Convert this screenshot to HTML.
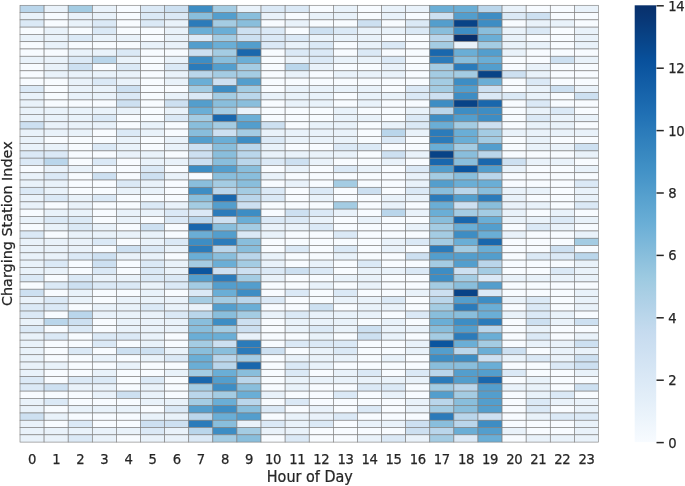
<!DOCTYPE html>
<html lang="en"><head><meta charset="utf-8"><title>Heatmap</title>
<style>html,body{margin:0;padding:0;background:#fff}svg{display:block}text{font-family:"DejaVu Sans","Liberation Sans",sans-serif;fill:#262626;stroke:#262626;stroke-width:0.25px}</style></head><body>
<svg width="685" height="486" viewBox="0 0 685 486">
<rect width="685" height="486" fill="#ffffff"/>
<g stroke="#808080" stroke-width="0.65">
<rect x="20.00" y="5.30" width="24.10" height="7.28" fill="#bad6eb"/>
<rect x="44.10" y="5.30" width="24.10" height="7.28" fill="#e9f2fa"/>
<rect x="68.21" y="5.30" width="24.10" height="7.28" fill="#a4cce3"/>
<rect x="92.31" y="5.30" width="24.10" height="7.28" fill="#e9f2fa"/>
<rect x="116.42" y="5.30" width="24.10" height="7.28" fill="#f7fbff"/>
<rect x="140.52" y="5.30" width="24.10" height="7.28" fill="#dbe9f6"/>
<rect x="164.62" y="5.30" width="24.10" height="7.28" fill="#cde0f1"/>
<rect x="188.73" y="5.30" width="24.10" height="7.28" fill="#3d8dc4"/>
<rect x="212.83" y="5.30" width="24.10" height="7.28" fill="#a4cce3"/>
<rect x="236.94" y="5.30" width="24.10" height="7.28" fill="#e9f2fa"/>
<rect x="261.04" y="5.30" width="24.10" height="7.28" fill="#dbe9f6"/>
<rect x="285.15" y="5.30" width="24.10" height="7.28" fill="#dbe9f6"/>
<rect x="309.25" y="5.30" width="24.10" height="7.28" fill="#f7fbff"/>
<rect x="333.35" y="5.30" width="24.10" height="7.28" fill="#e9f2fa"/>
<rect x="357.46" y="5.30" width="24.10" height="7.28" fill="#f7fbff"/>
<rect x="381.56" y="5.30" width="24.10" height="7.28" fill="#e9f2fa"/>
<rect x="405.67" y="5.30" width="24.10" height="7.28" fill="#e9f2fa"/>
<rect x="429.77" y="5.30" width="24.10" height="7.28" fill="#6aaed6"/>
<rect x="453.88" y="5.30" width="24.10" height="7.28" fill="#6aaed6"/>
<rect x="477.98" y="5.30" width="24.10" height="7.28" fill="#bad6eb"/>
<rect x="502.08" y="5.30" width="24.10" height="7.28" fill="#e9f2fa"/>
<rect x="526.19" y="5.30" width="24.10" height="7.28" fill="#f7fbff"/>
<rect x="550.29" y="5.30" width="24.10" height="7.28" fill="#f7fbff"/>
<rect x="574.40" y="5.30" width="24.10" height="7.28" fill="#e9f2fa"/>
<rect x="20.00" y="12.58" width="24.10" height="7.28" fill="#e9f2fa"/>
<rect x="44.10" y="12.58" width="24.10" height="7.28" fill="#f7fbff"/>
<rect x="68.21" y="12.58" width="24.10" height="7.28" fill="#e9f2fa"/>
<rect x="92.31" y="12.58" width="24.10" height="7.28" fill="#e9f2fa"/>
<rect x="116.42" y="12.58" width="24.10" height="7.28" fill="#f7fbff"/>
<rect x="140.52" y="12.58" width="24.10" height="7.28" fill="#dbe9f6"/>
<rect x="164.62" y="12.58" width="24.10" height="7.28" fill="#dbe9f6"/>
<rect x="188.73" y="12.58" width="24.10" height="7.28" fill="#89bedc"/>
<rect x="212.83" y="12.58" width="24.10" height="7.28" fill="#539ecd"/>
<rect x="236.94" y="12.58" width="24.10" height="7.28" fill="#89bedc"/>
<rect x="261.04" y="12.58" width="24.10" height="7.28" fill="#e9f2fa"/>
<rect x="285.15" y="12.58" width="24.10" height="7.28" fill="#f7fbff"/>
<rect x="309.25" y="12.58" width="24.10" height="7.28" fill="#e9f2fa"/>
<rect x="333.35" y="12.58" width="24.10" height="7.28" fill="#e9f2fa"/>
<rect x="357.46" y="12.58" width="24.10" height="7.28" fill="#f7fbff"/>
<rect x="381.56" y="12.58" width="24.10" height="7.28" fill="#e9f2fa"/>
<rect x="405.67" y="12.58" width="24.10" height="7.28" fill="#f7fbff"/>
<rect x="429.77" y="12.58" width="24.10" height="7.28" fill="#cde0f1"/>
<rect x="453.88" y="12.58" width="24.10" height="7.28" fill="#539ecd"/>
<rect x="477.98" y="12.58" width="24.10" height="7.28" fill="#3d8dc4"/>
<rect x="502.08" y="12.58" width="24.10" height="7.28" fill="#dbe9f6"/>
<rect x="526.19" y="12.58" width="24.10" height="7.28" fill="#cde0f1"/>
<rect x="550.29" y="12.58" width="24.10" height="7.28" fill="#f7fbff"/>
<rect x="574.40" y="12.58" width="24.10" height="7.28" fill="#f7fbff"/>
<rect x="20.00" y="19.86" width="24.10" height="7.28" fill="#dbe9f6"/>
<rect x="44.10" y="19.86" width="24.10" height="7.28" fill="#f7fbff"/>
<rect x="68.21" y="19.86" width="24.10" height="7.28" fill="#e9f2fa"/>
<rect x="92.31" y="19.86" width="24.10" height="7.28" fill="#dbe9f6"/>
<rect x="116.42" y="19.86" width="24.10" height="7.28" fill="#f7fbff"/>
<rect x="140.52" y="19.86" width="24.10" height="7.28" fill="#dbe9f6"/>
<rect x="164.62" y="19.86" width="24.10" height="7.28" fill="#e9f2fa"/>
<rect x="188.73" y="19.86" width="24.10" height="7.28" fill="#2b7bba"/>
<rect x="212.83" y="19.86" width="24.10" height="7.28" fill="#a4cce3"/>
<rect x="236.94" y="19.86" width="24.10" height="7.28" fill="#89bedc"/>
<rect x="261.04" y="19.86" width="24.10" height="7.28" fill="#f7fbff"/>
<rect x="285.15" y="19.86" width="24.10" height="7.28" fill="#e9f2fa"/>
<rect x="309.25" y="19.86" width="24.10" height="7.28" fill="#f7fbff"/>
<rect x="333.35" y="19.86" width="24.10" height="7.28" fill="#f7fbff"/>
<rect x="357.46" y="19.86" width="24.10" height="7.28" fill="#cde0f1"/>
<rect x="381.56" y="19.86" width="24.10" height="7.28" fill="#f7fbff"/>
<rect x="405.67" y="19.86" width="24.10" height="7.28" fill="#dbe9f6"/>
<rect x="429.77" y="19.86" width="24.10" height="7.28" fill="#539ecd"/>
<rect x="453.88" y="19.86" width="24.10" height="7.28" fill="#084387"/>
<rect x="477.98" y="19.86" width="24.10" height="7.28" fill="#3d8dc4"/>
<rect x="502.08" y="19.86" width="24.10" height="7.28" fill="#f7fbff"/>
<rect x="526.19" y="19.86" width="24.10" height="7.28" fill="#e9f2fa"/>
<rect x="550.29" y="19.86" width="24.10" height="7.28" fill="#e9f2fa"/>
<rect x="574.40" y="19.86" width="24.10" height="7.28" fill="#f7fbff"/>
<rect x="20.00" y="27.14" width="24.10" height="7.28" fill="#f7fbff"/>
<rect x="44.10" y="27.14" width="24.10" height="7.28" fill="#e9f2fa"/>
<rect x="68.21" y="27.14" width="24.10" height="7.28" fill="#f7fbff"/>
<rect x="92.31" y="27.14" width="24.10" height="7.28" fill="#dbe9f6"/>
<rect x="116.42" y="27.14" width="24.10" height="7.28" fill="#f7fbff"/>
<rect x="140.52" y="27.14" width="24.10" height="7.28" fill="#f7fbff"/>
<rect x="164.62" y="27.14" width="24.10" height="7.28" fill="#e9f2fa"/>
<rect x="188.73" y="27.14" width="24.10" height="7.28" fill="#6aaed6"/>
<rect x="212.83" y="27.14" width="24.10" height="7.28" fill="#6aaed6"/>
<rect x="236.94" y="27.14" width="24.10" height="7.28" fill="#cde0f1"/>
<rect x="261.04" y="27.14" width="24.10" height="7.28" fill="#dbe9f6"/>
<rect x="285.15" y="27.14" width="24.10" height="7.28" fill="#f7fbff"/>
<rect x="309.25" y="27.14" width="24.10" height="7.28" fill="#cde0f1"/>
<rect x="333.35" y="27.14" width="24.10" height="7.28" fill="#dbe9f6"/>
<rect x="357.46" y="27.14" width="24.10" height="7.28" fill="#e9f2fa"/>
<rect x="381.56" y="27.14" width="24.10" height="7.28" fill="#e9f2fa"/>
<rect x="405.67" y="27.14" width="24.10" height="7.28" fill="#dbe9f6"/>
<rect x="429.77" y="27.14" width="24.10" height="7.28" fill="#89bedc"/>
<rect x="453.88" y="27.14" width="24.10" height="7.28" fill="#3d8dc4"/>
<rect x="477.98" y="27.14" width="24.10" height="7.28" fill="#89bedc"/>
<rect x="502.08" y="27.14" width="24.10" height="7.28" fill="#e9f2fa"/>
<rect x="526.19" y="27.14" width="24.10" height="7.28" fill="#dbe9f6"/>
<rect x="550.29" y="27.14" width="24.10" height="7.28" fill="#f7fbff"/>
<rect x="574.40" y="27.14" width="24.10" height="7.28" fill="#e9f2fa"/>
<rect x="20.00" y="34.42" width="24.10" height="7.28" fill="#e9f2fa"/>
<rect x="44.10" y="34.42" width="24.10" height="7.28" fill="#e9f2fa"/>
<rect x="68.21" y="34.42" width="24.10" height="7.28" fill="#dbe9f6"/>
<rect x="92.31" y="34.42" width="24.10" height="7.28" fill="#e9f2fa"/>
<rect x="116.42" y="34.42" width="24.10" height="7.28" fill="#e9f2fa"/>
<rect x="140.52" y="34.42" width="24.10" height="7.28" fill="#f7fbff"/>
<rect x="164.62" y="34.42" width="24.10" height="7.28" fill="#e9f2fa"/>
<rect x="188.73" y="34.42" width="24.10" height="7.28" fill="#dbe9f6"/>
<rect x="212.83" y="34.42" width="24.10" height="7.28" fill="#a4cce3"/>
<rect x="236.94" y="34.42" width="24.10" height="7.28" fill="#cde0f1"/>
<rect x="261.04" y="34.42" width="24.10" height="7.28" fill="#dbe9f6"/>
<rect x="285.15" y="34.42" width="24.10" height="7.28" fill="#dbe9f6"/>
<rect x="309.25" y="34.42" width="24.10" height="7.28" fill="#e9f2fa"/>
<rect x="333.35" y="34.42" width="24.10" height="7.28" fill="#e9f2fa"/>
<rect x="357.46" y="34.42" width="24.10" height="7.28" fill="#e9f2fa"/>
<rect x="381.56" y="34.42" width="24.10" height="7.28" fill="#f7fbff"/>
<rect x="405.67" y="34.42" width="24.10" height="7.28" fill="#f7fbff"/>
<rect x="429.77" y="34.42" width="24.10" height="7.28" fill="#bad6eb"/>
<rect x="453.88" y="34.42" width="24.10" height="7.28" fill="#08306b"/>
<rect x="477.98" y="34.42" width="24.10" height="7.28" fill="#6aaed6"/>
<rect x="502.08" y="34.42" width="24.10" height="7.28" fill="#e9f2fa"/>
<rect x="526.19" y="34.42" width="24.10" height="7.28" fill="#f7fbff"/>
<rect x="550.29" y="34.42" width="24.10" height="7.28" fill="#f7fbff"/>
<rect x="574.40" y="34.42" width="24.10" height="7.28" fill="#e9f2fa"/>
<rect x="20.00" y="41.70" width="24.10" height="7.28" fill="#f7fbff"/>
<rect x="44.10" y="41.70" width="24.10" height="7.28" fill="#e9f2fa"/>
<rect x="68.21" y="41.70" width="24.10" height="7.28" fill="#f7fbff"/>
<rect x="92.31" y="41.70" width="24.10" height="7.28" fill="#f7fbff"/>
<rect x="116.42" y="41.70" width="24.10" height="7.28" fill="#f7fbff"/>
<rect x="140.52" y="41.70" width="24.10" height="7.28" fill="#e9f2fa"/>
<rect x="164.62" y="41.70" width="24.10" height="7.28" fill="#e9f2fa"/>
<rect x="188.73" y="41.70" width="24.10" height="7.28" fill="#539ecd"/>
<rect x="212.83" y="41.70" width="24.10" height="7.28" fill="#6aaed6"/>
<rect x="236.94" y="41.70" width="24.10" height="7.28" fill="#539ecd"/>
<rect x="261.04" y="41.70" width="24.10" height="7.28" fill="#dbe9f6"/>
<rect x="285.15" y="41.70" width="24.10" height="7.28" fill="#e9f2fa"/>
<rect x="309.25" y="41.70" width="24.10" height="7.28" fill="#dbe9f6"/>
<rect x="333.35" y="41.70" width="24.10" height="7.28" fill="#f7fbff"/>
<rect x="357.46" y="41.70" width="24.10" height="7.28" fill="#e9f2fa"/>
<rect x="381.56" y="41.70" width="24.10" height="7.28" fill="#dbe9f6"/>
<rect x="405.67" y="41.70" width="24.10" height="7.28" fill="#f7fbff"/>
<rect x="429.77" y="41.70" width="24.10" height="7.28" fill="#a4cce3"/>
<rect x="453.88" y="41.70" width="24.10" height="7.28" fill="#e9f2fa"/>
<rect x="477.98" y="41.70" width="24.10" height="7.28" fill="#a4cce3"/>
<rect x="502.08" y="41.70" width="24.10" height="7.28" fill="#e9f2fa"/>
<rect x="526.19" y="41.70" width="24.10" height="7.28" fill="#e9f2fa"/>
<rect x="550.29" y="41.70" width="24.10" height="7.28" fill="#f7fbff"/>
<rect x="574.40" y="41.70" width="24.10" height="7.28" fill="#e9f2fa"/>
<rect x="20.00" y="48.98" width="24.10" height="7.28" fill="#f7fbff"/>
<rect x="44.10" y="48.98" width="24.10" height="7.28" fill="#f7fbff"/>
<rect x="68.21" y="48.98" width="24.10" height="7.28" fill="#e9f2fa"/>
<rect x="92.31" y="48.98" width="24.10" height="7.28" fill="#e9f2fa"/>
<rect x="116.42" y="48.98" width="24.10" height="7.28" fill="#dbe9f6"/>
<rect x="140.52" y="48.98" width="24.10" height="7.28" fill="#f7fbff"/>
<rect x="164.62" y="48.98" width="24.10" height="7.28" fill="#f7fbff"/>
<rect x="188.73" y="48.98" width="24.10" height="7.28" fill="#cde0f1"/>
<rect x="212.83" y="48.98" width="24.10" height="7.28" fill="#a4cce3"/>
<rect x="236.94" y="48.98" width="24.10" height="7.28" fill="#1967ad"/>
<rect x="261.04" y="48.98" width="24.10" height="7.28" fill="#f7fbff"/>
<rect x="285.15" y="48.98" width="24.10" height="7.28" fill="#dbe9f6"/>
<rect x="309.25" y="48.98" width="24.10" height="7.28" fill="#dbe9f6"/>
<rect x="333.35" y="48.98" width="24.10" height="7.28" fill="#f7fbff"/>
<rect x="357.46" y="48.98" width="24.10" height="7.28" fill="#dbe9f6"/>
<rect x="381.56" y="48.98" width="24.10" height="7.28" fill="#f7fbff"/>
<rect x="405.67" y="48.98" width="24.10" height="7.28" fill="#f7fbff"/>
<rect x="429.77" y="48.98" width="24.10" height="7.28" fill="#1967ad"/>
<rect x="453.88" y="48.98" width="24.10" height="7.28" fill="#6aaed6"/>
<rect x="477.98" y="48.98" width="24.10" height="7.28" fill="#539ecd"/>
<rect x="502.08" y="48.98" width="24.10" height="7.28" fill="#e9f2fa"/>
<rect x="526.19" y="48.98" width="24.10" height="7.28" fill="#f7fbff"/>
<rect x="550.29" y="48.98" width="24.10" height="7.28" fill="#f7fbff"/>
<rect x="574.40" y="48.98" width="24.10" height="7.28" fill="#f7fbff"/>
<rect x="20.00" y="56.26" width="24.10" height="7.28" fill="#e9f2fa"/>
<rect x="44.10" y="56.26" width="24.10" height="7.28" fill="#e9f2fa"/>
<rect x="68.21" y="56.26" width="24.10" height="7.28" fill="#dbe9f6"/>
<rect x="92.31" y="56.26" width="24.10" height="7.28" fill="#bad6eb"/>
<rect x="116.42" y="56.26" width="24.10" height="7.28" fill="#e9f2fa"/>
<rect x="140.52" y="56.26" width="24.10" height="7.28" fill="#f7fbff"/>
<rect x="164.62" y="56.26" width="24.10" height="7.28" fill="#e9f2fa"/>
<rect x="188.73" y="56.26" width="24.10" height="7.28" fill="#3d8dc4"/>
<rect x="212.83" y="56.26" width="24.10" height="7.28" fill="#89bedc"/>
<rect x="236.94" y="56.26" width="24.10" height="7.28" fill="#6aaed6"/>
<rect x="261.04" y="56.26" width="24.10" height="7.28" fill="#f7fbff"/>
<rect x="285.15" y="56.26" width="24.10" height="7.28" fill="#e9f2fa"/>
<rect x="309.25" y="56.26" width="24.10" height="7.28" fill="#dbe9f6"/>
<rect x="333.35" y="56.26" width="24.10" height="7.28" fill="#e9f2fa"/>
<rect x="357.46" y="56.26" width="24.10" height="7.28" fill="#e9f2fa"/>
<rect x="381.56" y="56.26" width="24.10" height="7.28" fill="#dbe9f6"/>
<rect x="405.67" y="56.26" width="24.10" height="7.28" fill="#f7fbff"/>
<rect x="429.77" y="56.26" width="24.10" height="7.28" fill="#2b7bba"/>
<rect x="453.88" y="56.26" width="24.10" height="7.28" fill="#89bedc"/>
<rect x="477.98" y="56.26" width="24.10" height="7.28" fill="#6aaed6"/>
<rect x="502.08" y="56.26" width="24.10" height="7.28" fill="#f7fbff"/>
<rect x="526.19" y="56.26" width="24.10" height="7.28" fill="#f7fbff"/>
<rect x="550.29" y="56.26" width="24.10" height="7.28" fill="#cde0f1"/>
<rect x="574.40" y="56.26" width="24.10" height="7.28" fill="#e9f2fa"/>
<rect x="20.00" y="63.54" width="24.10" height="7.28" fill="#f7fbff"/>
<rect x="44.10" y="63.54" width="24.10" height="7.28" fill="#e9f2fa"/>
<rect x="68.21" y="63.54" width="24.10" height="7.28" fill="#cde0f1"/>
<rect x="92.31" y="63.54" width="24.10" height="7.28" fill="#f7fbff"/>
<rect x="116.42" y="63.54" width="24.10" height="7.28" fill="#dbe9f6"/>
<rect x="140.52" y="63.54" width="24.10" height="7.28" fill="#f7fbff"/>
<rect x="164.62" y="63.54" width="24.10" height="7.28" fill="#dbe9f6"/>
<rect x="188.73" y="63.54" width="24.10" height="7.28" fill="#2b7bba"/>
<rect x="212.83" y="63.54" width="24.10" height="7.28" fill="#539ecd"/>
<rect x="236.94" y="63.54" width="24.10" height="7.28" fill="#a4cce3"/>
<rect x="261.04" y="63.54" width="24.10" height="7.28" fill="#f7fbff"/>
<rect x="285.15" y="63.54" width="24.10" height="7.28" fill="#bad6eb"/>
<rect x="309.25" y="63.54" width="24.10" height="7.28" fill="#e9f2fa"/>
<rect x="333.35" y="63.54" width="24.10" height="7.28" fill="#f7fbff"/>
<rect x="357.46" y="63.54" width="24.10" height="7.28" fill="#f7fbff"/>
<rect x="381.56" y="63.54" width="24.10" height="7.28" fill="#e9f2fa"/>
<rect x="405.67" y="63.54" width="24.10" height="7.28" fill="#f7fbff"/>
<rect x="429.77" y="63.54" width="24.10" height="7.28" fill="#a4cce3"/>
<rect x="453.88" y="63.54" width="24.10" height="7.28" fill="#2b7bba"/>
<rect x="477.98" y="63.54" width="24.10" height="7.28" fill="#539ecd"/>
<rect x="502.08" y="63.54" width="24.10" height="7.28" fill="#f7fbff"/>
<rect x="526.19" y="63.54" width="24.10" height="7.28" fill="#e9f2fa"/>
<rect x="550.29" y="63.54" width="24.10" height="7.28" fill="#f7fbff"/>
<rect x="574.40" y="63.54" width="24.10" height="7.28" fill="#f7fbff"/>
<rect x="20.00" y="70.82" width="24.10" height="7.28" fill="#f7fbff"/>
<rect x="44.10" y="70.82" width="24.10" height="7.28" fill="#e9f2fa"/>
<rect x="68.21" y="70.82" width="24.10" height="7.28" fill="#e9f2fa"/>
<rect x="92.31" y="70.82" width="24.10" height="7.28" fill="#e9f2fa"/>
<rect x="116.42" y="70.82" width="24.10" height="7.28" fill="#e9f2fa"/>
<rect x="140.52" y="70.82" width="24.10" height="7.28" fill="#f7fbff"/>
<rect x="164.62" y="70.82" width="24.10" height="7.28" fill="#e9f2fa"/>
<rect x="188.73" y="70.82" width="24.10" height="7.28" fill="#bad6eb"/>
<rect x="212.83" y="70.82" width="24.10" height="7.28" fill="#a4cce3"/>
<rect x="236.94" y="70.82" width="24.10" height="7.28" fill="#a4cce3"/>
<rect x="261.04" y="70.82" width="24.10" height="7.28" fill="#f7fbff"/>
<rect x="285.15" y="70.82" width="24.10" height="7.28" fill="#e9f2fa"/>
<rect x="309.25" y="70.82" width="24.10" height="7.28" fill="#f7fbff"/>
<rect x="333.35" y="70.82" width="24.10" height="7.28" fill="#e9f2fa"/>
<rect x="357.46" y="70.82" width="24.10" height="7.28" fill="#e9f2fa"/>
<rect x="381.56" y="70.82" width="24.10" height="7.28" fill="#e9f2fa"/>
<rect x="405.67" y="70.82" width="24.10" height="7.28" fill="#f7fbff"/>
<rect x="429.77" y="70.82" width="24.10" height="7.28" fill="#a4cce3"/>
<rect x="453.88" y="70.82" width="24.10" height="7.28" fill="#a4cce3"/>
<rect x="477.98" y="70.82" width="24.10" height="7.28" fill="#084387"/>
<rect x="502.08" y="70.82" width="24.10" height="7.28" fill="#cde0f1"/>
<rect x="526.19" y="70.82" width="24.10" height="7.28" fill="#e9f2fa"/>
<rect x="550.29" y="70.82" width="24.10" height="7.28" fill="#f7fbff"/>
<rect x="574.40" y="70.82" width="24.10" height="7.28" fill="#f7fbff"/>
<rect x="20.00" y="78.10" width="24.10" height="7.28" fill="#f7fbff"/>
<rect x="44.10" y="78.10" width="24.10" height="7.28" fill="#f7fbff"/>
<rect x="68.21" y="78.10" width="24.10" height="7.28" fill="#e9f2fa"/>
<rect x="92.31" y="78.10" width="24.10" height="7.28" fill="#dbe9f6"/>
<rect x="116.42" y="78.10" width="24.10" height="7.28" fill="#e9f2fa"/>
<rect x="140.52" y="78.10" width="24.10" height="7.28" fill="#f7fbff"/>
<rect x="164.62" y="78.10" width="24.10" height="7.28" fill="#e9f2fa"/>
<rect x="188.73" y="78.10" width="24.10" height="7.28" fill="#6aaed6"/>
<rect x="212.83" y="78.10" width="24.10" height="7.28" fill="#cde0f1"/>
<rect x="236.94" y="78.10" width="24.10" height="7.28" fill="#539ecd"/>
<rect x="261.04" y="78.10" width="24.10" height="7.28" fill="#f7fbff"/>
<rect x="285.15" y="78.10" width="24.10" height="7.28" fill="#f7fbff"/>
<rect x="309.25" y="78.10" width="24.10" height="7.28" fill="#f7fbff"/>
<rect x="333.35" y="78.10" width="24.10" height="7.28" fill="#f7fbff"/>
<rect x="357.46" y="78.10" width="24.10" height="7.28" fill="#f7fbff"/>
<rect x="381.56" y="78.10" width="24.10" height="7.28" fill="#f7fbff"/>
<rect x="405.67" y="78.10" width="24.10" height="7.28" fill="#f7fbff"/>
<rect x="429.77" y="78.10" width="24.10" height="7.28" fill="#a4cce3"/>
<rect x="453.88" y="78.10" width="24.10" height="7.28" fill="#3d8dc4"/>
<rect x="477.98" y="78.10" width="24.10" height="7.28" fill="#6aaed6"/>
<rect x="502.08" y="78.10" width="24.10" height="7.28" fill="#f7fbff"/>
<rect x="526.19" y="78.10" width="24.10" height="7.28" fill="#dbe9f6"/>
<rect x="550.29" y="78.10" width="24.10" height="7.28" fill="#f7fbff"/>
<rect x="574.40" y="78.10" width="24.10" height="7.28" fill="#f7fbff"/>
<rect x="20.00" y="85.38" width="24.10" height="7.28" fill="#dbe9f6"/>
<rect x="44.10" y="85.38" width="24.10" height="7.28" fill="#f7fbff"/>
<rect x="68.21" y="85.38" width="24.10" height="7.28" fill="#e9f2fa"/>
<rect x="92.31" y="85.38" width="24.10" height="7.28" fill="#e9f2fa"/>
<rect x="116.42" y="85.38" width="24.10" height="7.28" fill="#cde0f1"/>
<rect x="140.52" y="85.38" width="24.10" height="7.28" fill="#f7fbff"/>
<rect x="164.62" y="85.38" width="24.10" height="7.28" fill="#f7fbff"/>
<rect x="188.73" y="85.38" width="24.10" height="7.28" fill="#a4cce3"/>
<rect x="212.83" y="85.38" width="24.10" height="7.28" fill="#3d8dc4"/>
<rect x="236.94" y="85.38" width="24.10" height="7.28" fill="#a4cce3"/>
<rect x="261.04" y="85.38" width="24.10" height="7.28" fill="#f7fbff"/>
<rect x="285.15" y="85.38" width="24.10" height="7.28" fill="#e9f2fa"/>
<rect x="309.25" y="85.38" width="24.10" height="7.28" fill="#e9f2fa"/>
<rect x="333.35" y="85.38" width="24.10" height="7.28" fill="#e9f2fa"/>
<rect x="357.46" y="85.38" width="24.10" height="7.28" fill="#e9f2fa"/>
<rect x="381.56" y="85.38" width="24.10" height="7.28" fill="#f7fbff"/>
<rect x="405.67" y="85.38" width="24.10" height="7.28" fill="#dbe9f6"/>
<rect x="429.77" y="85.38" width="24.10" height="7.28" fill="#a4cce3"/>
<rect x="453.88" y="85.38" width="24.10" height="7.28" fill="#539ecd"/>
<rect x="477.98" y="85.38" width="24.10" height="7.28" fill="#cde0f1"/>
<rect x="502.08" y="85.38" width="24.10" height="7.28" fill="#f7fbff"/>
<rect x="526.19" y="85.38" width="24.10" height="7.28" fill="#e9f2fa"/>
<rect x="550.29" y="85.38" width="24.10" height="7.28" fill="#cde0f1"/>
<rect x="574.40" y="85.38" width="24.10" height="7.28" fill="#e9f2fa"/>
<rect x="20.00" y="92.66" width="24.10" height="7.28" fill="#e9f2fa"/>
<rect x="44.10" y="92.66" width="24.10" height="7.28" fill="#f7fbff"/>
<rect x="68.21" y="92.66" width="24.10" height="7.28" fill="#e9f2fa"/>
<rect x="92.31" y="92.66" width="24.10" height="7.28" fill="#e9f2fa"/>
<rect x="116.42" y="92.66" width="24.10" height="7.28" fill="#dbe9f6"/>
<rect x="140.52" y="92.66" width="24.10" height="7.28" fill="#f7fbff"/>
<rect x="164.62" y="92.66" width="24.10" height="7.28" fill="#e9f2fa"/>
<rect x="188.73" y="92.66" width="24.10" height="7.28" fill="#dbe9f6"/>
<rect x="212.83" y="92.66" width="24.10" height="7.28" fill="#a4cce3"/>
<rect x="236.94" y="92.66" width="24.10" height="7.28" fill="#bad6eb"/>
<rect x="261.04" y="92.66" width="24.10" height="7.28" fill="#e9f2fa"/>
<rect x="285.15" y="92.66" width="24.10" height="7.28" fill="#e9f2fa"/>
<rect x="309.25" y="92.66" width="24.10" height="7.28" fill="#e9f2fa"/>
<rect x="333.35" y="92.66" width="24.10" height="7.28" fill="#f7fbff"/>
<rect x="357.46" y="92.66" width="24.10" height="7.28" fill="#e9f2fa"/>
<rect x="381.56" y="92.66" width="24.10" height="7.28" fill="#e9f2fa"/>
<rect x="405.67" y="92.66" width="24.10" height="7.28" fill="#dbe9f6"/>
<rect x="429.77" y="92.66" width="24.10" height="7.28" fill="#cde0f1"/>
<rect x="453.88" y="92.66" width="24.10" height="7.28" fill="#3d8dc4"/>
<rect x="477.98" y="92.66" width="24.10" height="7.28" fill="#dbe9f6"/>
<rect x="502.08" y="92.66" width="24.10" height="7.28" fill="#dbe9f6"/>
<rect x="526.19" y="92.66" width="24.10" height="7.28" fill="#e9f2fa"/>
<rect x="550.29" y="92.66" width="24.10" height="7.28" fill="#f7fbff"/>
<rect x="574.40" y="92.66" width="24.10" height="7.28" fill="#cde0f1"/>
<rect x="20.00" y="99.94" width="24.10" height="7.28" fill="#e9f2fa"/>
<rect x="44.10" y="99.94" width="24.10" height="7.28" fill="#f7fbff"/>
<rect x="68.21" y="99.94" width="24.10" height="7.28" fill="#f7fbff"/>
<rect x="92.31" y="99.94" width="24.10" height="7.28" fill="#f7fbff"/>
<rect x="116.42" y="99.94" width="24.10" height="7.28" fill="#cde0f1"/>
<rect x="140.52" y="99.94" width="24.10" height="7.28" fill="#f7fbff"/>
<rect x="164.62" y="99.94" width="24.10" height="7.28" fill="#cde0f1"/>
<rect x="188.73" y="99.94" width="24.10" height="7.28" fill="#539ecd"/>
<rect x="212.83" y="99.94" width="24.10" height="7.28" fill="#89bedc"/>
<rect x="236.94" y="99.94" width="24.10" height="7.28" fill="#89bedc"/>
<rect x="261.04" y="99.94" width="24.10" height="7.28" fill="#f7fbff"/>
<rect x="285.15" y="99.94" width="24.10" height="7.28" fill="#e9f2fa"/>
<rect x="309.25" y="99.94" width="24.10" height="7.28" fill="#e9f2fa"/>
<rect x="333.35" y="99.94" width="24.10" height="7.28" fill="#f7fbff"/>
<rect x="357.46" y="99.94" width="24.10" height="7.28" fill="#e9f2fa"/>
<rect x="381.56" y="99.94" width="24.10" height="7.28" fill="#f7fbff"/>
<rect x="405.67" y="99.94" width="24.10" height="7.28" fill="#f7fbff"/>
<rect x="429.77" y="99.94" width="24.10" height="7.28" fill="#3d8dc4"/>
<rect x="453.88" y="99.94" width="24.10" height="7.28" fill="#084387"/>
<rect x="477.98" y="99.94" width="24.10" height="7.28" fill="#1967ad"/>
<rect x="502.08" y="99.94" width="24.10" height="7.28" fill="#f7fbff"/>
<rect x="526.19" y="99.94" width="24.10" height="7.28" fill="#dbe9f6"/>
<rect x="550.29" y="99.94" width="24.10" height="7.28" fill="#f7fbff"/>
<rect x="574.40" y="99.94" width="24.10" height="7.28" fill="#f7fbff"/>
<rect x="20.00" y="107.22" width="24.10" height="7.28" fill="#e9f2fa"/>
<rect x="44.10" y="107.22" width="24.10" height="7.28" fill="#e9f2fa"/>
<rect x="68.21" y="107.22" width="24.10" height="7.28" fill="#e9f2fa"/>
<rect x="92.31" y="107.22" width="24.10" height="7.28" fill="#e9f2fa"/>
<rect x="116.42" y="107.22" width="24.10" height="7.28" fill="#e9f2fa"/>
<rect x="140.52" y="107.22" width="24.10" height="7.28" fill="#f7fbff"/>
<rect x="164.62" y="107.22" width="24.10" height="7.28" fill="#e9f2fa"/>
<rect x="188.73" y="107.22" width="24.10" height="7.28" fill="#6aaed6"/>
<rect x="212.83" y="107.22" width="24.10" height="7.28" fill="#a4cce3"/>
<rect x="236.94" y="107.22" width="24.10" height="7.28" fill="#e9f2fa"/>
<rect x="261.04" y="107.22" width="24.10" height="7.28" fill="#f7fbff"/>
<rect x="285.15" y="107.22" width="24.10" height="7.28" fill="#f7fbff"/>
<rect x="309.25" y="107.22" width="24.10" height="7.28" fill="#f7fbff"/>
<rect x="333.35" y="107.22" width="24.10" height="7.28" fill="#e9f2fa"/>
<rect x="357.46" y="107.22" width="24.10" height="7.28" fill="#f7fbff"/>
<rect x="381.56" y="107.22" width="24.10" height="7.28" fill="#f7fbff"/>
<rect x="405.67" y="107.22" width="24.10" height="7.28" fill="#e9f2fa"/>
<rect x="429.77" y="107.22" width="24.10" height="7.28" fill="#bad6eb"/>
<rect x="453.88" y="107.22" width="24.10" height="7.28" fill="#3d8dc4"/>
<rect x="477.98" y="107.22" width="24.10" height="7.28" fill="#3d8dc4"/>
<rect x="502.08" y="107.22" width="24.10" height="7.28" fill="#f7fbff"/>
<rect x="526.19" y="107.22" width="24.10" height="7.28" fill="#e9f2fa"/>
<rect x="550.29" y="107.22" width="24.10" height="7.28" fill="#dbe9f6"/>
<rect x="574.40" y="107.22" width="24.10" height="7.28" fill="#f7fbff"/>
<rect x="20.00" y="114.50" width="24.10" height="7.28" fill="#e9f2fa"/>
<rect x="44.10" y="114.50" width="24.10" height="7.28" fill="#e9f2fa"/>
<rect x="68.21" y="114.50" width="24.10" height="7.28" fill="#e9f2fa"/>
<rect x="92.31" y="114.50" width="24.10" height="7.28" fill="#dbe9f6"/>
<rect x="116.42" y="114.50" width="24.10" height="7.28" fill="#f7fbff"/>
<rect x="140.52" y="114.50" width="24.10" height="7.28" fill="#f7fbff"/>
<rect x="164.62" y="114.50" width="24.10" height="7.28" fill="#dbe9f6"/>
<rect x="188.73" y="114.50" width="24.10" height="7.28" fill="#a4cce3"/>
<rect x="212.83" y="114.50" width="24.10" height="7.28" fill="#1967ad"/>
<rect x="236.94" y="114.50" width="24.10" height="7.28" fill="#6aaed6"/>
<rect x="261.04" y="114.50" width="24.10" height="7.28" fill="#f7fbff"/>
<rect x="285.15" y="114.50" width="24.10" height="7.28" fill="#f7fbff"/>
<rect x="309.25" y="114.50" width="24.10" height="7.28" fill="#f7fbff"/>
<rect x="333.35" y="114.50" width="24.10" height="7.28" fill="#e9f2fa"/>
<rect x="357.46" y="114.50" width="24.10" height="7.28" fill="#e9f2fa"/>
<rect x="381.56" y="114.50" width="24.10" height="7.28" fill="#f7fbff"/>
<rect x="405.67" y="114.50" width="24.10" height="7.28" fill="#dbe9f6"/>
<rect x="429.77" y="114.50" width="24.10" height="7.28" fill="#3d8dc4"/>
<rect x="453.88" y="114.50" width="24.10" height="7.28" fill="#539ecd"/>
<rect x="477.98" y="114.50" width="24.10" height="7.28" fill="#3d8dc4"/>
<rect x="502.08" y="114.50" width="24.10" height="7.28" fill="#f7fbff"/>
<rect x="526.19" y="114.50" width="24.10" height="7.28" fill="#dbe9f6"/>
<rect x="550.29" y="114.50" width="24.10" height="7.28" fill="#e9f2fa"/>
<rect x="574.40" y="114.50" width="24.10" height="7.28" fill="#e9f2fa"/>
<rect x="20.00" y="121.78" width="24.10" height="7.28" fill="#cde0f1"/>
<rect x="44.10" y="121.78" width="24.10" height="7.28" fill="#e9f2fa"/>
<rect x="68.21" y="121.78" width="24.10" height="7.28" fill="#e9f2fa"/>
<rect x="92.31" y="121.78" width="24.10" height="7.28" fill="#e9f2fa"/>
<rect x="116.42" y="121.78" width="24.10" height="7.28" fill="#f7fbff"/>
<rect x="140.52" y="121.78" width="24.10" height="7.28" fill="#e9f2fa"/>
<rect x="164.62" y="121.78" width="24.10" height="7.28" fill="#f7fbff"/>
<rect x="188.73" y="121.78" width="24.10" height="7.28" fill="#89bedc"/>
<rect x="212.83" y="121.78" width="24.10" height="7.28" fill="#a4cce3"/>
<rect x="236.94" y="121.78" width="24.10" height="7.28" fill="#539ecd"/>
<rect x="261.04" y="121.78" width="24.10" height="7.28" fill="#cde0f1"/>
<rect x="285.15" y="121.78" width="24.10" height="7.28" fill="#f7fbff"/>
<rect x="309.25" y="121.78" width="24.10" height="7.28" fill="#e9f2fa"/>
<rect x="333.35" y="121.78" width="24.10" height="7.28" fill="#e9f2fa"/>
<rect x="357.46" y="121.78" width="24.10" height="7.28" fill="#f7fbff"/>
<rect x="381.56" y="121.78" width="24.10" height="7.28" fill="#e9f2fa"/>
<rect x="405.67" y="121.78" width="24.10" height="7.28" fill="#dbe9f6"/>
<rect x="429.77" y="121.78" width="24.10" height="7.28" fill="#6aaed6"/>
<rect x="453.88" y="121.78" width="24.10" height="7.28" fill="#a4cce3"/>
<rect x="477.98" y="121.78" width="24.10" height="7.28" fill="#cde0f1"/>
<rect x="502.08" y="121.78" width="24.10" height="7.28" fill="#f7fbff"/>
<rect x="526.19" y="121.78" width="24.10" height="7.28" fill="#e9f2fa"/>
<rect x="550.29" y="121.78" width="24.10" height="7.28" fill="#e9f2fa"/>
<rect x="574.40" y="121.78" width="24.10" height="7.28" fill="#f7fbff"/>
<rect x="20.00" y="129.06" width="24.10" height="7.28" fill="#e9f2fa"/>
<rect x="44.10" y="129.06" width="24.10" height="7.28" fill="#e9f2fa"/>
<rect x="68.21" y="129.06" width="24.10" height="7.28" fill="#e9f2fa"/>
<rect x="92.31" y="129.06" width="24.10" height="7.28" fill="#f7fbff"/>
<rect x="116.42" y="129.06" width="24.10" height="7.28" fill="#dbe9f6"/>
<rect x="140.52" y="129.06" width="24.10" height="7.28" fill="#e9f2fa"/>
<rect x="164.62" y="129.06" width="24.10" height="7.28" fill="#f7fbff"/>
<rect x="188.73" y="129.06" width="24.10" height="7.28" fill="#89bedc"/>
<rect x="212.83" y="129.06" width="24.10" height="7.28" fill="#cde0f1"/>
<rect x="236.94" y="129.06" width="24.10" height="7.28" fill="#a4cce3"/>
<rect x="261.04" y="129.06" width="24.10" height="7.28" fill="#e9f2fa"/>
<rect x="285.15" y="129.06" width="24.10" height="7.28" fill="#e9f2fa"/>
<rect x="309.25" y="129.06" width="24.10" height="7.28" fill="#e9f2fa"/>
<rect x="333.35" y="129.06" width="24.10" height="7.28" fill="#e9f2fa"/>
<rect x="357.46" y="129.06" width="24.10" height="7.28" fill="#f7fbff"/>
<rect x="381.56" y="129.06" width="24.10" height="7.28" fill="#bad6eb"/>
<rect x="405.67" y="129.06" width="24.10" height="7.28" fill="#e9f2fa"/>
<rect x="429.77" y="129.06" width="24.10" height="7.28" fill="#2b7bba"/>
<rect x="453.88" y="129.06" width="24.10" height="7.28" fill="#6aaed6"/>
<rect x="477.98" y="129.06" width="24.10" height="7.28" fill="#a4cce3"/>
<rect x="502.08" y="129.06" width="24.10" height="7.28" fill="#e9f2fa"/>
<rect x="526.19" y="129.06" width="24.10" height="7.28" fill="#e9f2fa"/>
<rect x="550.29" y="129.06" width="24.10" height="7.28" fill="#e9f2fa"/>
<rect x="574.40" y="129.06" width="24.10" height="7.28" fill="#e9f2fa"/>
<rect x="20.00" y="136.34" width="24.10" height="7.28" fill="#e9f2fa"/>
<rect x="44.10" y="136.34" width="24.10" height="7.28" fill="#f7fbff"/>
<rect x="68.21" y="136.34" width="24.10" height="7.28" fill="#f7fbff"/>
<rect x="92.31" y="136.34" width="24.10" height="7.28" fill="#f7fbff"/>
<rect x="116.42" y="136.34" width="24.10" height="7.28" fill="#e9f2fa"/>
<rect x="140.52" y="136.34" width="24.10" height="7.28" fill="#f7fbff"/>
<rect x="164.62" y="136.34" width="24.10" height="7.28" fill="#e9f2fa"/>
<rect x="188.73" y="136.34" width="24.10" height="7.28" fill="#539ecd"/>
<rect x="212.83" y="136.34" width="24.10" height="7.28" fill="#6aaed6"/>
<rect x="236.94" y="136.34" width="24.10" height="7.28" fill="#3d8dc4"/>
<rect x="261.04" y="136.34" width="24.10" height="7.28" fill="#dbe9f6"/>
<rect x="285.15" y="136.34" width="24.10" height="7.28" fill="#e9f2fa"/>
<rect x="309.25" y="136.34" width="24.10" height="7.28" fill="#e9f2fa"/>
<rect x="333.35" y="136.34" width="24.10" height="7.28" fill="#e9f2fa"/>
<rect x="357.46" y="136.34" width="24.10" height="7.28" fill="#f7fbff"/>
<rect x="381.56" y="136.34" width="24.10" height="7.28" fill="#dbe9f6"/>
<rect x="405.67" y="136.34" width="24.10" height="7.28" fill="#f7fbff"/>
<rect x="429.77" y="136.34" width="24.10" height="7.28" fill="#2b7bba"/>
<rect x="453.88" y="136.34" width="24.10" height="7.28" fill="#6aaed6"/>
<rect x="477.98" y="136.34" width="24.10" height="7.28" fill="#a4cce3"/>
<rect x="502.08" y="136.34" width="24.10" height="7.28" fill="#f7fbff"/>
<rect x="526.19" y="136.34" width="24.10" height="7.28" fill="#e9f2fa"/>
<rect x="550.29" y="136.34" width="24.10" height="7.28" fill="#f7fbff"/>
<rect x="574.40" y="136.34" width="24.10" height="7.28" fill="#f7fbff"/>
<rect x="20.00" y="143.62" width="24.10" height="7.28" fill="#e9f2fa"/>
<rect x="44.10" y="143.62" width="24.10" height="7.28" fill="#e9f2fa"/>
<rect x="68.21" y="143.62" width="24.10" height="7.28" fill="#f7fbff"/>
<rect x="92.31" y="143.62" width="24.10" height="7.28" fill="#dbe9f6"/>
<rect x="116.42" y="143.62" width="24.10" height="7.28" fill="#e9f2fa"/>
<rect x="140.52" y="143.62" width="24.10" height="7.28" fill="#f7fbff"/>
<rect x="164.62" y="143.62" width="24.10" height="7.28" fill="#e9f2fa"/>
<rect x="188.73" y="143.62" width="24.10" height="7.28" fill="#cde0f1"/>
<rect x="212.83" y="143.62" width="24.10" height="7.28" fill="#89bedc"/>
<rect x="236.94" y="143.62" width="24.10" height="7.28" fill="#bad6eb"/>
<rect x="261.04" y="143.62" width="24.10" height="7.28" fill="#e9f2fa"/>
<rect x="285.15" y="143.62" width="24.10" height="7.28" fill="#f7fbff"/>
<rect x="309.25" y="143.62" width="24.10" height="7.28" fill="#f7fbff"/>
<rect x="333.35" y="143.62" width="24.10" height="7.28" fill="#dbe9f6"/>
<rect x="357.46" y="143.62" width="24.10" height="7.28" fill="#dbe9f6"/>
<rect x="381.56" y="143.62" width="24.10" height="7.28" fill="#f7fbff"/>
<rect x="405.67" y="143.62" width="24.10" height="7.28" fill="#f7fbff"/>
<rect x="429.77" y="143.62" width="24.10" height="7.28" fill="#6aaed6"/>
<rect x="453.88" y="143.62" width="24.10" height="7.28" fill="#a4cce3"/>
<rect x="477.98" y="143.62" width="24.10" height="7.28" fill="#539ecd"/>
<rect x="502.08" y="143.62" width="24.10" height="7.28" fill="#f7fbff"/>
<rect x="526.19" y="143.62" width="24.10" height="7.28" fill="#e9f2fa"/>
<rect x="550.29" y="143.62" width="24.10" height="7.28" fill="#e9f2fa"/>
<rect x="574.40" y="143.62" width="24.10" height="7.28" fill="#cde0f1"/>
<rect x="20.00" y="150.90" width="24.10" height="7.28" fill="#dbe9f6"/>
<rect x="44.10" y="150.90" width="24.10" height="7.28" fill="#dbe9f6"/>
<rect x="68.21" y="150.90" width="24.10" height="7.28" fill="#f7fbff"/>
<rect x="92.31" y="150.90" width="24.10" height="7.28" fill="#f7fbff"/>
<rect x="116.42" y="150.90" width="24.10" height="7.28" fill="#e9f2fa"/>
<rect x="140.52" y="150.90" width="24.10" height="7.28" fill="#e9f2fa"/>
<rect x="164.62" y="150.90" width="24.10" height="7.28" fill="#f7fbff"/>
<rect x="188.73" y="150.90" width="24.10" height="7.28" fill="#cde0f1"/>
<rect x="212.83" y="150.90" width="24.10" height="7.28" fill="#89bedc"/>
<rect x="236.94" y="150.90" width="24.10" height="7.28" fill="#bad6eb"/>
<rect x="261.04" y="150.90" width="24.10" height="7.28" fill="#e9f2fa"/>
<rect x="285.15" y="150.90" width="24.10" height="7.28" fill="#e9f2fa"/>
<rect x="309.25" y="150.90" width="24.10" height="7.28" fill="#e9f2fa"/>
<rect x="333.35" y="150.90" width="24.10" height="7.28" fill="#e9f2fa"/>
<rect x="357.46" y="150.90" width="24.10" height="7.28" fill="#f7fbff"/>
<rect x="381.56" y="150.90" width="24.10" height="7.28" fill="#cde0f1"/>
<rect x="405.67" y="150.90" width="24.10" height="7.28" fill="#e9f2fa"/>
<rect x="429.77" y="150.90" width="24.10" height="7.28" fill="#084387"/>
<rect x="453.88" y="150.90" width="24.10" height="7.28" fill="#89bedc"/>
<rect x="477.98" y="150.90" width="24.10" height="7.28" fill="#bad6eb"/>
<rect x="502.08" y="150.90" width="24.10" height="7.28" fill="#f7fbff"/>
<rect x="526.19" y="150.90" width="24.10" height="7.28" fill="#f7fbff"/>
<rect x="550.29" y="150.90" width="24.10" height="7.28" fill="#f7fbff"/>
<rect x="574.40" y="150.90" width="24.10" height="7.28" fill="#e9f2fa"/>
<rect x="20.00" y="158.18" width="24.10" height="7.28" fill="#dbe9f6"/>
<rect x="44.10" y="158.18" width="24.10" height="7.28" fill="#bad6eb"/>
<rect x="68.21" y="158.18" width="24.10" height="7.28" fill="#f7fbff"/>
<rect x="92.31" y="158.18" width="24.10" height="7.28" fill="#dbe9f6"/>
<rect x="116.42" y="158.18" width="24.10" height="7.28" fill="#f7fbff"/>
<rect x="140.52" y="158.18" width="24.10" height="7.28" fill="#e9f2fa"/>
<rect x="164.62" y="158.18" width="24.10" height="7.28" fill="#e9f2fa"/>
<rect x="188.73" y="158.18" width="24.10" height="7.28" fill="#cde0f1"/>
<rect x="212.83" y="158.18" width="24.10" height="7.28" fill="#89bedc"/>
<rect x="236.94" y="158.18" width="24.10" height="7.28" fill="#bad6eb"/>
<rect x="261.04" y="158.18" width="24.10" height="7.28" fill="#dbe9f6"/>
<rect x="285.15" y="158.18" width="24.10" height="7.28" fill="#cde0f1"/>
<rect x="309.25" y="158.18" width="24.10" height="7.28" fill="#e9f2fa"/>
<rect x="333.35" y="158.18" width="24.10" height="7.28" fill="#f7fbff"/>
<rect x="357.46" y="158.18" width="24.10" height="7.28" fill="#f7fbff"/>
<rect x="381.56" y="158.18" width="24.10" height="7.28" fill="#e9f2fa"/>
<rect x="405.67" y="158.18" width="24.10" height="7.28" fill="#f7fbff"/>
<rect x="429.77" y="158.18" width="24.10" height="7.28" fill="#1967ad"/>
<rect x="453.88" y="158.18" width="24.10" height="7.28" fill="#89bedc"/>
<rect x="477.98" y="158.18" width="24.10" height="7.28" fill="#1967ad"/>
<rect x="502.08" y="158.18" width="24.10" height="7.28" fill="#cde0f1"/>
<rect x="526.19" y="158.18" width="24.10" height="7.28" fill="#e9f2fa"/>
<rect x="550.29" y="158.18" width="24.10" height="7.28" fill="#e9f2fa"/>
<rect x="574.40" y="158.18" width="24.10" height="7.28" fill="#f7fbff"/>
<rect x="20.00" y="165.46" width="24.10" height="7.28" fill="#f7fbff"/>
<rect x="44.10" y="165.46" width="24.10" height="7.28" fill="#e9f2fa"/>
<rect x="68.21" y="165.46" width="24.10" height="7.28" fill="#e9f2fa"/>
<rect x="92.31" y="165.46" width="24.10" height="7.28" fill="#f7fbff"/>
<rect x="116.42" y="165.46" width="24.10" height="7.28" fill="#f7fbff"/>
<rect x="140.52" y="165.46" width="24.10" height="7.28" fill="#dbe9f6"/>
<rect x="164.62" y="165.46" width="24.10" height="7.28" fill="#f7fbff"/>
<rect x="188.73" y="165.46" width="24.10" height="7.28" fill="#3d8dc4"/>
<rect x="212.83" y="165.46" width="24.10" height="7.28" fill="#539ecd"/>
<rect x="236.94" y="165.46" width="24.10" height="7.28" fill="#89bedc"/>
<rect x="261.04" y="165.46" width="24.10" height="7.28" fill="#f7fbff"/>
<rect x="285.15" y="165.46" width="24.10" height="7.28" fill="#e9f2fa"/>
<rect x="309.25" y="165.46" width="24.10" height="7.28" fill="#f7fbff"/>
<rect x="333.35" y="165.46" width="24.10" height="7.28" fill="#dbe9f6"/>
<rect x="357.46" y="165.46" width="24.10" height="7.28" fill="#e9f2fa"/>
<rect x="381.56" y="165.46" width="24.10" height="7.28" fill="#f7fbff"/>
<rect x="405.67" y="165.46" width="24.10" height="7.28" fill="#dbe9f6"/>
<rect x="429.77" y="165.46" width="24.10" height="7.28" fill="#539ecd"/>
<rect x="453.88" y="165.46" width="24.10" height="7.28" fill="#0b559f"/>
<rect x="477.98" y="165.46" width="24.10" height="7.28" fill="#539ecd"/>
<rect x="502.08" y="165.46" width="24.10" height="7.28" fill="#e9f2fa"/>
<rect x="526.19" y="165.46" width="24.10" height="7.28" fill="#f7fbff"/>
<rect x="550.29" y="165.46" width="24.10" height="7.28" fill="#f7fbff"/>
<rect x="574.40" y="165.46" width="24.10" height="7.28" fill="#e9f2fa"/>
<rect x="20.00" y="172.74" width="24.10" height="7.28" fill="#e9f2fa"/>
<rect x="44.10" y="172.74" width="24.10" height="7.28" fill="#dbe9f6"/>
<rect x="68.21" y="172.74" width="24.10" height="7.28" fill="#f7fbff"/>
<rect x="92.31" y="172.74" width="24.10" height="7.28" fill="#cde0f1"/>
<rect x="116.42" y="172.74" width="24.10" height="7.28" fill="#f7fbff"/>
<rect x="140.52" y="172.74" width="24.10" height="7.28" fill="#cde0f1"/>
<rect x="164.62" y="172.74" width="24.10" height="7.28" fill="#e9f2fa"/>
<rect x="188.73" y="172.74" width="24.10" height="7.28" fill="#f7fbff"/>
<rect x="212.83" y="172.74" width="24.10" height="7.28" fill="#89bedc"/>
<rect x="236.94" y="172.74" width="24.10" height="7.28" fill="#89bedc"/>
<rect x="261.04" y="172.74" width="24.10" height="7.28" fill="#e9f2fa"/>
<rect x="285.15" y="172.74" width="24.10" height="7.28" fill="#f7fbff"/>
<rect x="309.25" y="172.74" width="24.10" height="7.28" fill="#f7fbff"/>
<rect x="333.35" y="172.74" width="24.10" height="7.28" fill="#f7fbff"/>
<rect x="357.46" y="172.74" width="24.10" height="7.28" fill="#f7fbff"/>
<rect x="381.56" y="172.74" width="24.10" height="7.28" fill="#f7fbff"/>
<rect x="405.67" y="172.74" width="24.10" height="7.28" fill="#e9f2fa"/>
<rect x="429.77" y="172.74" width="24.10" height="7.28" fill="#a4cce3"/>
<rect x="453.88" y="172.74" width="24.10" height="7.28" fill="#89bedc"/>
<rect x="477.98" y="172.74" width="24.10" height="7.28" fill="#bad6eb"/>
<rect x="502.08" y="172.74" width="24.10" height="7.28" fill="#f7fbff"/>
<rect x="526.19" y="172.74" width="24.10" height="7.28" fill="#f7fbff"/>
<rect x="550.29" y="172.74" width="24.10" height="7.28" fill="#f7fbff"/>
<rect x="574.40" y="172.74" width="24.10" height="7.28" fill="#f7fbff"/>
<rect x="20.00" y="180.02" width="24.10" height="7.28" fill="#e9f2fa"/>
<rect x="44.10" y="180.02" width="24.10" height="7.28" fill="#e9f2fa"/>
<rect x="68.21" y="180.02" width="24.10" height="7.28" fill="#f7fbff"/>
<rect x="92.31" y="180.02" width="24.10" height="7.28" fill="#f7fbff"/>
<rect x="116.42" y="180.02" width="24.10" height="7.28" fill="#dbe9f6"/>
<rect x="140.52" y="180.02" width="24.10" height="7.28" fill="#e9f2fa"/>
<rect x="164.62" y="180.02" width="24.10" height="7.28" fill="#f7fbff"/>
<rect x="188.73" y="180.02" width="24.10" height="7.28" fill="#89bedc"/>
<rect x="212.83" y="180.02" width="24.10" height="7.28" fill="#a4cce3"/>
<rect x="236.94" y="180.02" width="24.10" height="7.28" fill="#89bedc"/>
<rect x="261.04" y="180.02" width="24.10" height="7.28" fill="#f7fbff"/>
<rect x="285.15" y="180.02" width="24.10" height="7.28" fill="#e9f2fa"/>
<rect x="309.25" y="180.02" width="24.10" height="7.28" fill="#f7fbff"/>
<rect x="333.35" y="180.02" width="24.10" height="7.28" fill="#a4cce3"/>
<rect x="357.46" y="180.02" width="24.10" height="7.28" fill="#f7fbff"/>
<rect x="381.56" y="180.02" width="24.10" height="7.28" fill="#f7fbff"/>
<rect x="405.67" y="180.02" width="24.10" height="7.28" fill="#e9f2fa"/>
<rect x="429.77" y="180.02" width="24.10" height="7.28" fill="#539ecd"/>
<rect x="453.88" y="180.02" width="24.10" height="7.28" fill="#6aaed6"/>
<rect x="477.98" y="180.02" width="24.10" height="7.28" fill="#6aaed6"/>
<rect x="502.08" y="180.02" width="24.10" height="7.28" fill="#f7fbff"/>
<rect x="526.19" y="180.02" width="24.10" height="7.28" fill="#f7fbff"/>
<rect x="550.29" y="180.02" width="24.10" height="7.28" fill="#f7fbff"/>
<rect x="574.40" y="180.02" width="24.10" height="7.28" fill="#dbe9f6"/>
<rect x="20.00" y="187.30" width="24.10" height="7.28" fill="#dbe9f6"/>
<rect x="44.10" y="187.30" width="24.10" height="7.28" fill="#e9f2fa"/>
<rect x="68.21" y="187.30" width="24.10" height="7.28" fill="#f7fbff"/>
<rect x="92.31" y="187.30" width="24.10" height="7.28" fill="#f7fbff"/>
<rect x="116.42" y="187.30" width="24.10" height="7.28" fill="#e9f2fa"/>
<rect x="140.52" y="187.30" width="24.10" height="7.28" fill="#e9f2fa"/>
<rect x="164.62" y="187.30" width="24.10" height="7.28" fill="#f7fbff"/>
<rect x="188.73" y="187.30" width="24.10" height="7.28" fill="#3d8dc4"/>
<rect x="212.83" y="187.30" width="24.10" height="7.28" fill="#bad6eb"/>
<rect x="236.94" y="187.30" width="24.10" height="7.28" fill="#a4cce3"/>
<rect x="261.04" y="187.30" width="24.10" height="7.28" fill="#dbe9f6"/>
<rect x="285.15" y="187.30" width="24.10" height="7.28" fill="#f7fbff"/>
<rect x="309.25" y="187.30" width="24.10" height="7.28" fill="#dbe9f6"/>
<rect x="333.35" y="187.30" width="24.10" height="7.28" fill="#f7fbff"/>
<rect x="357.46" y="187.30" width="24.10" height="7.28" fill="#cde0f1"/>
<rect x="381.56" y="187.30" width="24.10" height="7.28" fill="#f7fbff"/>
<rect x="405.67" y="187.30" width="24.10" height="7.28" fill="#dbe9f6"/>
<rect x="429.77" y="187.30" width="24.10" height="7.28" fill="#89bedc"/>
<rect x="453.88" y="187.30" width="24.10" height="7.28" fill="#bad6eb"/>
<rect x="477.98" y="187.30" width="24.10" height="7.28" fill="#89bedc"/>
<rect x="502.08" y="187.30" width="24.10" height="7.28" fill="#e9f2fa"/>
<rect x="526.19" y="187.30" width="24.10" height="7.28" fill="#e9f2fa"/>
<rect x="550.29" y="187.30" width="24.10" height="7.28" fill="#f7fbff"/>
<rect x="574.40" y="187.30" width="24.10" height="7.28" fill="#e9f2fa"/>
<rect x="20.00" y="194.58" width="24.10" height="7.28" fill="#e9f2fa"/>
<rect x="44.10" y="194.58" width="24.10" height="7.28" fill="#dbe9f6"/>
<rect x="68.21" y="194.58" width="24.10" height="7.28" fill="#e9f2fa"/>
<rect x="92.31" y="194.58" width="24.10" height="7.28" fill="#dbe9f6"/>
<rect x="116.42" y="194.58" width="24.10" height="7.28" fill="#f7fbff"/>
<rect x="140.52" y="194.58" width="24.10" height="7.28" fill="#f7fbff"/>
<rect x="164.62" y="194.58" width="24.10" height="7.28" fill="#f7fbff"/>
<rect x="188.73" y="194.58" width="24.10" height="7.28" fill="#89bedc"/>
<rect x="212.83" y="194.58" width="24.10" height="7.28" fill="#1967ad"/>
<rect x="236.94" y="194.58" width="24.10" height="7.28" fill="#bad6eb"/>
<rect x="261.04" y="194.58" width="24.10" height="7.28" fill="#dbe9f6"/>
<rect x="285.15" y="194.58" width="24.10" height="7.28" fill="#f7fbff"/>
<rect x="309.25" y="194.58" width="24.10" height="7.28" fill="#e9f2fa"/>
<rect x="333.35" y="194.58" width="24.10" height="7.28" fill="#f7fbff"/>
<rect x="357.46" y="194.58" width="24.10" height="7.28" fill="#f7fbff"/>
<rect x="381.56" y="194.58" width="24.10" height="7.28" fill="#e9f2fa"/>
<rect x="405.67" y="194.58" width="24.10" height="7.28" fill="#e9f2fa"/>
<rect x="429.77" y="194.58" width="24.10" height="7.28" fill="#2b7bba"/>
<rect x="453.88" y="194.58" width="24.10" height="7.28" fill="#539ecd"/>
<rect x="477.98" y="194.58" width="24.10" height="7.28" fill="#2b7bba"/>
<rect x="502.08" y="194.58" width="24.10" height="7.28" fill="#e9f2fa"/>
<rect x="526.19" y="194.58" width="24.10" height="7.28" fill="#f7fbff"/>
<rect x="550.29" y="194.58" width="24.10" height="7.28" fill="#f7fbff"/>
<rect x="574.40" y="194.58" width="24.10" height="7.28" fill="#e9f2fa"/>
<rect x="20.00" y="201.86" width="24.10" height="7.28" fill="#e9f2fa"/>
<rect x="44.10" y="201.86" width="24.10" height="7.28" fill="#f7fbff"/>
<rect x="68.21" y="201.86" width="24.10" height="7.28" fill="#e9f2fa"/>
<rect x="92.31" y="201.86" width="24.10" height="7.28" fill="#f7fbff"/>
<rect x="116.42" y="201.86" width="24.10" height="7.28" fill="#f7fbff"/>
<rect x="140.52" y="201.86" width="24.10" height="7.28" fill="#dbe9f6"/>
<rect x="164.62" y="201.86" width="24.10" height="7.28" fill="#e9f2fa"/>
<rect x="188.73" y="201.86" width="24.10" height="7.28" fill="#a4cce3"/>
<rect x="212.83" y="201.86" width="24.10" height="7.28" fill="#539ecd"/>
<rect x="236.94" y="201.86" width="24.10" height="7.28" fill="#cde0f1"/>
<rect x="261.04" y="201.86" width="24.10" height="7.28" fill="#f7fbff"/>
<rect x="285.15" y="201.86" width="24.10" height="7.28" fill="#f7fbff"/>
<rect x="309.25" y="201.86" width="24.10" height="7.28" fill="#f7fbff"/>
<rect x="333.35" y="201.86" width="24.10" height="7.28" fill="#a4cce3"/>
<rect x="357.46" y="201.86" width="24.10" height="7.28" fill="#f7fbff"/>
<rect x="381.56" y="201.86" width="24.10" height="7.28" fill="#e9f2fa"/>
<rect x="405.67" y="201.86" width="24.10" height="7.28" fill="#f7fbff"/>
<rect x="429.77" y="201.86" width="24.10" height="7.28" fill="#6aaed6"/>
<rect x="453.88" y="201.86" width="24.10" height="7.28" fill="#cde0f1"/>
<rect x="477.98" y="201.86" width="24.10" height="7.28" fill="#89bedc"/>
<rect x="502.08" y="201.86" width="24.10" height="7.28" fill="#e9f2fa"/>
<rect x="526.19" y="201.86" width="24.10" height="7.28" fill="#e9f2fa"/>
<rect x="550.29" y="201.86" width="24.10" height="7.28" fill="#f7fbff"/>
<rect x="574.40" y="201.86" width="24.10" height="7.28" fill="#dbe9f6"/>
<rect x="20.00" y="209.14" width="24.10" height="7.28" fill="#f7fbff"/>
<rect x="44.10" y="209.14" width="24.10" height="7.28" fill="#e9f2fa"/>
<rect x="68.21" y="209.14" width="24.10" height="7.28" fill="#e9f2fa"/>
<rect x="92.31" y="209.14" width="24.10" height="7.28" fill="#f7fbff"/>
<rect x="116.42" y="209.14" width="24.10" height="7.28" fill="#e9f2fa"/>
<rect x="140.52" y="209.14" width="24.10" height="7.28" fill="#e9f2fa"/>
<rect x="164.62" y="209.14" width="24.10" height="7.28" fill="#dbe9f6"/>
<rect x="188.73" y="209.14" width="24.10" height="7.28" fill="#dbe9f6"/>
<rect x="212.83" y="209.14" width="24.10" height="7.28" fill="#2b7bba"/>
<rect x="236.94" y="209.14" width="24.10" height="7.28" fill="#3d8dc4"/>
<rect x="261.04" y="209.14" width="24.10" height="7.28" fill="#f7fbff"/>
<rect x="285.15" y="209.14" width="24.10" height="7.28" fill="#cde0f1"/>
<rect x="309.25" y="209.14" width="24.10" height="7.28" fill="#dbe9f6"/>
<rect x="333.35" y="209.14" width="24.10" height="7.28" fill="#e9f2fa"/>
<rect x="357.46" y="209.14" width="24.10" height="7.28" fill="#f7fbff"/>
<rect x="381.56" y="209.14" width="24.10" height="7.28" fill="#bad6eb"/>
<rect x="405.67" y="209.14" width="24.10" height="7.28" fill="#e9f2fa"/>
<rect x="429.77" y="209.14" width="24.10" height="7.28" fill="#6aaed6"/>
<rect x="453.88" y="209.14" width="24.10" height="7.28" fill="#a4cce3"/>
<rect x="477.98" y="209.14" width="24.10" height="7.28" fill="#a4cce3"/>
<rect x="502.08" y="209.14" width="24.10" height="7.28" fill="#e9f2fa"/>
<rect x="526.19" y="209.14" width="24.10" height="7.28" fill="#f7fbff"/>
<rect x="550.29" y="209.14" width="24.10" height="7.28" fill="#e9f2fa"/>
<rect x="574.40" y="209.14" width="24.10" height="7.28" fill="#f7fbff"/>
<rect x="20.00" y="216.42" width="24.10" height="7.28" fill="#e9f2fa"/>
<rect x="44.10" y="216.42" width="24.10" height="7.28" fill="#dbe9f6"/>
<rect x="68.21" y="216.42" width="24.10" height="7.28" fill="#dbe9f6"/>
<rect x="92.31" y="216.42" width="24.10" height="7.28" fill="#f7fbff"/>
<rect x="116.42" y="216.42" width="24.10" height="7.28" fill="#e9f2fa"/>
<rect x="140.52" y="216.42" width="24.10" height="7.28" fill="#f7fbff"/>
<rect x="164.62" y="216.42" width="24.10" height="7.28" fill="#dbe9f6"/>
<rect x="188.73" y="216.42" width="24.10" height="7.28" fill="#bad6eb"/>
<rect x="212.83" y="216.42" width="24.10" height="7.28" fill="#cde0f1"/>
<rect x="236.94" y="216.42" width="24.10" height="7.28" fill="#6aaed6"/>
<rect x="261.04" y="216.42" width="24.10" height="7.28" fill="#dbe9f6"/>
<rect x="285.15" y="216.42" width="24.10" height="7.28" fill="#dbe9f6"/>
<rect x="309.25" y="216.42" width="24.10" height="7.28" fill="#e9f2fa"/>
<rect x="333.35" y="216.42" width="24.10" height="7.28" fill="#f7fbff"/>
<rect x="357.46" y="216.42" width="24.10" height="7.28" fill="#e9f2fa"/>
<rect x="381.56" y="216.42" width="24.10" height="7.28" fill="#f7fbff"/>
<rect x="405.67" y="216.42" width="24.10" height="7.28" fill="#f7fbff"/>
<rect x="429.77" y="216.42" width="24.10" height="7.28" fill="#89bedc"/>
<rect x="453.88" y="216.42" width="24.10" height="7.28" fill="#1967ad"/>
<rect x="477.98" y="216.42" width="24.10" height="7.28" fill="#6aaed6"/>
<rect x="502.08" y="216.42" width="24.10" height="7.28" fill="#e9f2fa"/>
<rect x="526.19" y="216.42" width="24.10" height="7.28" fill="#e9f2fa"/>
<rect x="550.29" y="216.42" width="24.10" height="7.28" fill="#dbe9f6"/>
<rect x="574.40" y="216.42" width="24.10" height="7.28" fill="#e9f2fa"/>
<rect x="20.00" y="223.70" width="24.10" height="7.28" fill="#f7fbff"/>
<rect x="44.10" y="223.70" width="24.10" height="7.28" fill="#e9f2fa"/>
<rect x="68.21" y="223.70" width="24.10" height="7.28" fill="#dbe9f6"/>
<rect x="92.31" y="223.70" width="24.10" height="7.28" fill="#e9f2fa"/>
<rect x="116.42" y="223.70" width="24.10" height="7.28" fill="#f7fbff"/>
<rect x="140.52" y="223.70" width="24.10" height="7.28" fill="#cde0f1"/>
<rect x="164.62" y="223.70" width="24.10" height="7.28" fill="#f7fbff"/>
<rect x="188.73" y="223.70" width="24.10" height="7.28" fill="#1967ad"/>
<rect x="212.83" y="223.70" width="24.10" height="7.28" fill="#89bedc"/>
<rect x="236.94" y="223.70" width="24.10" height="7.28" fill="#a4cce3"/>
<rect x="261.04" y="223.70" width="24.10" height="7.28" fill="#e9f2fa"/>
<rect x="285.15" y="223.70" width="24.10" height="7.28" fill="#e9f2fa"/>
<rect x="309.25" y="223.70" width="24.10" height="7.28" fill="#dbe9f6"/>
<rect x="333.35" y="223.70" width="24.10" height="7.28" fill="#f7fbff"/>
<rect x="357.46" y="223.70" width="24.10" height="7.28" fill="#f7fbff"/>
<rect x="381.56" y="223.70" width="24.10" height="7.28" fill="#f7fbff"/>
<rect x="405.67" y="223.70" width="24.10" height="7.28" fill="#e9f2fa"/>
<rect x="429.77" y="223.70" width="24.10" height="7.28" fill="#a4cce3"/>
<rect x="453.88" y="223.70" width="24.10" height="7.28" fill="#6aaed6"/>
<rect x="477.98" y="223.70" width="24.10" height="7.28" fill="#539ecd"/>
<rect x="502.08" y="223.70" width="24.10" height="7.28" fill="#f7fbff"/>
<rect x="526.19" y="223.70" width="24.10" height="7.28" fill="#dbe9f6"/>
<rect x="550.29" y="223.70" width="24.10" height="7.28" fill="#e9f2fa"/>
<rect x="574.40" y="223.70" width="24.10" height="7.28" fill="#f7fbff"/>
<rect x="20.00" y="230.98" width="24.10" height="7.28" fill="#dbe9f6"/>
<rect x="44.10" y="230.98" width="24.10" height="7.28" fill="#f7fbff"/>
<rect x="68.21" y="230.98" width="24.10" height="7.28" fill="#e9f2fa"/>
<rect x="92.31" y="230.98" width="24.10" height="7.28" fill="#e9f2fa"/>
<rect x="116.42" y="230.98" width="24.10" height="7.28" fill="#e9f2fa"/>
<rect x="140.52" y="230.98" width="24.10" height="7.28" fill="#e9f2fa"/>
<rect x="164.62" y="230.98" width="24.10" height="7.28" fill="#f7fbff"/>
<rect x="188.73" y="230.98" width="24.10" height="7.28" fill="#6aaed6"/>
<rect x="212.83" y="230.98" width="24.10" height="7.28" fill="#539ecd"/>
<rect x="236.94" y="230.98" width="24.10" height="7.28" fill="#dbe9f6"/>
<rect x="261.04" y="230.98" width="24.10" height="7.28" fill="#e9f2fa"/>
<rect x="285.15" y="230.98" width="24.10" height="7.28" fill="#f7fbff"/>
<rect x="309.25" y="230.98" width="24.10" height="7.28" fill="#f7fbff"/>
<rect x="333.35" y="230.98" width="24.10" height="7.28" fill="#dbe9f6"/>
<rect x="357.46" y="230.98" width="24.10" height="7.28" fill="#f7fbff"/>
<rect x="381.56" y="230.98" width="24.10" height="7.28" fill="#f7fbff"/>
<rect x="405.67" y="230.98" width="24.10" height="7.28" fill="#f7fbff"/>
<rect x="429.77" y="230.98" width="24.10" height="7.28" fill="#a4cce3"/>
<rect x="453.88" y="230.98" width="24.10" height="7.28" fill="#3d8dc4"/>
<rect x="477.98" y="230.98" width="24.10" height="7.28" fill="#6aaed6"/>
<rect x="502.08" y="230.98" width="24.10" height="7.28" fill="#e9f2fa"/>
<rect x="526.19" y="230.98" width="24.10" height="7.28" fill="#f7fbff"/>
<rect x="550.29" y="230.98" width="24.10" height="7.28" fill="#f7fbff"/>
<rect x="574.40" y="230.98" width="24.10" height="7.28" fill="#e9f2fa"/>
<rect x="20.00" y="238.26" width="24.10" height="7.28" fill="#e9f2fa"/>
<rect x="44.10" y="238.26" width="24.10" height="7.28" fill="#e9f2fa"/>
<rect x="68.21" y="238.26" width="24.10" height="7.28" fill="#e9f2fa"/>
<rect x="92.31" y="238.26" width="24.10" height="7.28" fill="#dbe9f6"/>
<rect x="116.42" y="238.26" width="24.10" height="7.28" fill="#f7fbff"/>
<rect x="140.52" y="238.26" width="24.10" height="7.28" fill="#e9f2fa"/>
<rect x="164.62" y="238.26" width="24.10" height="7.28" fill="#dbe9f6"/>
<rect x="188.73" y="238.26" width="24.10" height="7.28" fill="#3d8dc4"/>
<rect x="212.83" y="238.26" width="24.10" height="7.28" fill="#2b7bba"/>
<rect x="236.94" y="238.26" width="24.10" height="7.28" fill="#89bedc"/>
<rect x="261.04" y="238.26" width="24.10" height="7.28" fill="#f7fbff"/>
<rect x="285.15" y="238.26" width="24.10" height="7.28" fill="#f7fbff"/>
<rect x="309.25" y="238.26" width="24.10" height="7.28" fill="#f7fbff"/>
<rect x="333.35" y="238.26" width="24.10" height="7.28" fill="#f7fbff"/>
<rect x="357.46" y="238.26" width="24.10" height="7.28" fill="#f7fbff"/>
<rect x="381.56" y="238.26" width="24.10" height="7.28" fill="#e9f2fa"/>
<rect x="405.67" y="238.26" width="24.10" height="7.28" fill="#dbe9f6"/>
<rect x="429.77" y="238.26" width="24.10" height="7.28" fill="#a4cce3"/>
<rect x="453.88" y="238.26" width="24.10" height="7.28" fill="#6aaed6"/>
<rect x="477.98" y="238.26" width="24.10" height="7.28" fill="#1967ad"/>
<rect x="502.08" y="238.26" width="24.10" height="7.28" fill="#f7fbff"/>
<rect x="526.19" y="238.26" width="24.10" height="7.28" fill="#f7fbff"/>
<rect x="550.29" y="238.26" width="24.10" height="7.28" fill="#f7fbff"/>
<rect x="574.40" y="238.26" width="24.10" height="7.28" fill="#a4cce3"/>
<rect x="20.00" y="245.54" width="24.10" height="7.28" fill="#e9f2fa"/>
<rect x="44.10" y="245.54" width="24.10" height="7.28" fill="#e9f2fa"/>
<rect x="68.21" y="245.54" width="24.10" height="7.28" fill="#e9f2fa"/>
<rect x="92.31" y="245.54" width="24.10" height="7.28" fill="#f7fbff"/>
<rect x="116.42" y="245.54" width="24.10" height="7.28" fill="#cde0f1"/>
<rect x="140.52" y="245.54" width="24.10" height="7.28" fill="#dbe9f6"/>
<rect x="164.62" y="245.54" width="24.10" height="7.28" fill="#e9f2fa"/>
<rect x="188.73" y="245.54" width="24.10" height="7.28" fill="#2b7bba"/>
<rect x="212.83" y="245.54" width="24.10" height="7.28" fill="#bad6eb"/>
<rect x="236.94" y="245.54" width="24.10" height="7.28" fill="#89bedc"/>
<rect x="261.04" y="245.54" width="24.10" height="7.28" fill="#f7fbff"/>
<rect x="285.15" y="245.54" width="24.10" height="7.28" fill="#dbe9f6"/>
<rect x="309.25" y="245.54" width="24.10" height="7.28" fill="#f7fbff"/>
<rect x="333.35" y="245.54" width="24.10" height="7.28" fill="#dbe9f6"/>
<rect x="357.46" y="245.54" width="24.10" height="7.28" fill="#f7fbff"/>
<rect x="381.56" y="245.54" width="24.10" height="7.28" fill="#e9f2fa"/>
<rect x="405.67" y="245.54" width="24.10" height="7.28" fill="#f7fbff"/>
<rect x="429.77" y="245.54" width="24.10" height="7.28" fill="#2b7bba"/>
<rect x="453.88" y="245.54" width="24.10" height="7.28" fill="#a4cce3"/>
<rect x="477.98" y="245.54" width="24.10" height="7.28" fill="#6aaed6"/>
<rect x="502.08" y="245.54" width="24.10" height="7.28" fill="#f7fbff"/>
<rect x="526.19" y="245.54" width="24.10" height="7.28" fill="#f7fbff"/>
<rect x="550.29" y="245.54" width="24.10" height="7.28" fill="#cde0f1"/>
<rect x="574.40" y="245.54" width="24.10" height="7.28" fill="#f7fbff"/>
<rect x="20.00" y="252.82" width="24.10" height="7.28" fill="#e9f2fa"/>
<rect x="44.10" y="252.82" width="24.10" height="7.28" fill="#e9f2fa"/>
<rect x="68.21" y="252.82" width="24.10" height="7.28" fill="#dbe9f6"/>
<rect x="92.31" y="252.82" width="24.10" height="7.28" fill="#cde0f1"/>
<rect x="116.42" y="252.82" width="24.10" height="7.28" fill="#e9f2fa"/>
<rect x="140.52" y="252.82" width="24.10" height="7.28" fill="#e9f2fa"/>
<rect x="164.62" y="252.82" width="24.10" height="7.28" fill="#f7fbff"/>
<rect x="188.73" y="252.82" width="24.10" height="7.28" fill="#6aaed6"/>
<rect x="212.83" y="252.82" width="24.10" height="7.28" fill="#89bedc"/>
<rect x="236.94" y="252.82" width="24.10" height="7.28" fill="#bad6eb"/>
<rect x="261.04" y="252.82" width="24.10" height="7.28" fill="#e9f2fa"/>
<rect x="285.15" y="252.82" width="24.10" height="7.28" fill="#f7fbff"/>
<rect x="309.25" y="252.82" width="24.10" height="7.28" fill="#f7fbff"/>
<rect x="333.35" y="252.82" width="24.10" height="7.28" fill="#e9f2fa"/>
<rect x="357.46" y="252.82" width="24.10" height="7.28" fill="#f7fbff"/>
<rect x="381.56" y="252.82" width="24.10" height="7.28" fill="#f7fbff"/>
<rect x="405.67" y="252.82" width="24.10" height="7.28" fill="#cde0f1"/>
<rect x="429.77" y="252.82" width="24.10" height="7.28" fill="#539ecd"/>
<rect x="453.88" y="252.82" width="24.10" height="7.28" fill="#539ecd"/>
<rect x="477.98" y="252.82" width="24.10" height="7.28" fill="#539ecd"/>
<rect x="502.08" y="252.82" width="24.10" height="7.28" fill="#f7fbff"/>
<rect x="526.19" y="252.82" width="24.10" height="7.28" fill="#dbe9f6"/>
<rect x="550.29" y="252.82" width="24.10" height="7.28" fill="#dbe9f6"/>
<rect x="574.40" y="252.82" width="24.10" height="7.28" fill="#bad6eb"/>
<rect x="20.00" y="260.10" width="24.10" height="7.28" fill="#e9f2fa"/>
<rect x="44.10" y="260.10" width="24.10" height="7.28" fill="#dbe9f6"/>
<rect x="68.21" y="260.10" width="24.10" height="7.28" fill="#f7fbff"/>
<rect x="92.31" y="260.10" width="24.10" height="7.28" fill="#cde0f1"/>
<rect x="116.42" y="260.10" width="24.10" height="7.28" fill="#f7fbff"/>
<rect x="140.52" y="260.10" width="24.10" height="7.28" fill="#dbe9f6"/>
<rect x="164.62" y="260.10" width="24.10" height="7.28" fill="#e9f2fa"/>
<rect x="188.73" y="260.10" width="24.10" height="7.28" fill="#a4cce3"/>
<rect x="212.83" y="260.10" width="24.10" height="7.28" fill="#6aaed6"/>
<rect x="236.94" y="260.10" width="24.10" height="7.28" fill="#a4cce3"/>
<rect x="261.04" y="260.10" width="24.10" height="7.28" fill="#e9f2fa"/>
<rect x="285.15" y="260.10" width="24.10" height="7.28" fill="#f7fbff"/>
<rect x="309.25" y="260.10" width="24.10" height="7.28" fill="#e9f2fa"/>
<rect x="333.35" y="260.10" width="24.10" height="7.28" fill="#f7fbff"/>
<rect x="357.46" y="260.10" width="24.10" height="7.28" fill="#dbe9f6"/>
<rect x="381.56" y="260.10" width="24.10" height="7.28" fill="#f7fbff"/>
<rect x="405.67" y="260.10" width="24.10" height="7.28" fill="#f7fbff"/>
<rect x="429.77" y="260.10" width="24.10" height="7.28" fill="#a4cce3"/>
<rect x="453.88" y="260.10" width="24.10" height="7.28" fill="#539ecd"/>
<rect x="477.98" y="260.10" width="24.10" height="7.28" fill="#bad6eb"/>
<rect x="502.08" y="260.10" width="24.10" height="7.28" fill="#f7fbff"/>
<rect x="526.19" y="260.10" width="24.10" height="7.28" fill="#f7fbff"/>
<rect x="550.29" y="260.10" width="24.10" height="7.28" fill="#f7fbff"/>
<rect x="574.40" y="260.10" width="24.10" height="7.28" fill="#e9f2fa"/>
<rect x="20.00" y="267.38" width="24.10" height="7.28" fill="#e9f2fa"/>
<rect x="44.10" y="267.38" width="24.10" height="7.28" fill="#e9f2fa"/>
<rect x="68.21" y="267.38" width="24.10" height="7.28" fill="#f7fbff"/>
<rect x="92.31" y="267.38" width="24.10" height="7.28" fill="#dbe9f6"/>
<rect x="116.42" y="267.38" width="24.10" height="7.28" fill="#f7fbff"/>
<rect x="140.52" y="267.38" width="24.10" height="7.28" fill="#dbe9f6"/>
<rect x="164.62" y="267.38" width="24.10" height="7.28" fill="#e9f2fa"/>
<rect x="188.73" y="267.38" width="24.10" height="7.28" fill="#0b559f"/>
<rect x="212.83" y="267.38" width="24.10" height="7.28" fill="#cde0f1"/>
<rect x="236.94" y="267.38" width="24.10" height="7.28" fill="#cde0f1"/>
<rect x="261.04" y="267.38" width="24.10" height="7.28" fill="#dbe9f6"/>
<rect x="285.15" y="267.38" width="24.10" height="7.28" fill="#cde0f1"/>
<rect x="309.25" y="267.38" width="24.10" height="7.28" fill="#dbe9f6"/>
<rect x="333.35" y="267.38" width="24.10" height="7.28" fill="#f7fbff"/>
<rect x="357.46" y="267.38" width="24.10" height="7.28" fill="#e9f2fa"/>
<rect x="381.56" y="267.38" width="24.10" height="7.28" fill="#e9f2fa"/>
<rect x="405.67" y="267.38" width="24.10" height="7.28" fill="#dbe9f6"/>
<rect x="429.77" y="267.38" width="24.10" height="7.28" fill="#3d8dc4"/>
<rect x="453.88" y="267.38" width="24.10" height="7.28" fill="#cde0f1"/>
<rect x="477.98" y="267.38" width="24.10" height="7.28" fill="#a4cce3"/>
<rect x="502.08" y="267.38" width="24.10" height="7.28" fill="#f7fbff"/>
<rect x="526.19" y="267.38" width="24.10" height="7.28" fill="#f7fbff"/>
<rect x="550.29" y="267.38" width="24.10" height="7.28" fill="#dbe9f6"/>
<rect x="574.40" y="267.38" width="24.10" height="7.28" fill="#e9f2fa"/>
<rect x="20.00" y="274.66" width="24.10" height="7.28" fill="#dbe9f6"/>
<rect x="44.10" y="274.66" width="24.10" height="7.28" fill="#f7fbff"/>
<rect x="68.21" y="274.66" width="24.10" height="7.28" fill="#dbe9f6"/>
<rect x="92.31" y="274.66" width="24.10" height="7.28" fill="#e9f2fa"/>
<rect x="116.42" y="274.66" width="24.10" height="7.28" fill="#e9f2fa"/>
<rect x="140.52" y="274.66" width="24.10" height="7.28" fill="#dbe9f6"/>
<rect x="164.62" y="274.66" width="24.10" height="7.28" fill="#dbe9f6"/>
<rect x="188.73" y="274.66" width="24.10" height="7.28" fill="#539ecd"/>
<rect x="212.83" y="274.66" width="24.10" height="7.28" fill="#2b7bba"/>
<rect x="236.94" y="274.66" width="24.10" height="7.28" fill="#a4cce3"/>
<rect x="261.04" y="274.66" width="24.10" height="7.28" fill="#e9f2fa"/>
<rect x="285.15" y="274.66" width="24.10" height="7.28" fill="#f7fbff"/>
<rect x="309.25" y="274.66" width="24.10" height="7.28" fill="#f7fbff"/>
<rect x="333.35" y="274.66" width="24.10" height="7.28" fill="#e9f2fa"/>
<rect x="357.46" y="274.66" width="24.10" height="7.28" fill="#e9f2fa"/>
<rect x="381.56" y="274.66" width="24.10" height="7.28" fill="#f7fbff"/>
<rect x="405.67" y="274.66" width="24.10" height="7.28" fill="#f7fbff"/>
<rect x="429.77" y="274.66" width="24.10" height="7.28" fill="#3d8dc4"/>
<rect x="453.88" y="274.66" width="24.10" height="7.28" fill="#a4cce3"/>
<rect x="477.98" y="274.66" width="24.10" height="7.28" fill="#dbe9f6"/>
<rect x="502.08" y="274.66" width="24.10" height="7.28" fill="#e9f2fa"/>
<rect x="526.19" y="274.66" width="24.10" height="7.28" fill="#e9f2fa"/>
<rect x="550.29" y="274.66" width="24.10" height="7.28" fill="#e9f2fa"/>
<rect x="574.40" y="274.66" width="24.10" height="7.28" fill="#e9f2fa"/>
<rect x="20.00" y="281.94" width="24.10" height="7.28" fill="#f7fbff"/>
<rect x="44.10" y="281.94" width="24.10" height="7.28" fill="#dbe9f6"/>
<rect x="68.21" y="281.94" width="24.10" height="7.28" fill="#cde0f1"/>
<rect x="92.31" y="281.94" width="24.10" height="7.28" fill="#dbe9f6"/>
<rect x="116.42" y="281.94" width="24.10" height="7.28" fill="#dbe9f6"/>
<rect x="140.52" y="281.94" width="24.10" height="7.28" fill="#e9f2fa"/>
<rect x="164.62" y="281.94" width="24.10" height="7.28" fill="#dbe9f6"/>
<rect x="188.73" y="281.94" width="24.10" height="7.28" fill="#a4cce3"/>
<rect x="212.83" y="281.94" width="24.10" height="7.28" fill="#539ecd"/>
<rect x="236.94" y="281.94" width="24.10" height="7.28" fill="#539ecd"/>
<rect x="261.04" y="281.94" width="24.10" height="7.28" fill="#f7fbff"/>
<rect x="285.15" y="281.94" width="24.10" height="7.28" fill="#f7fbff"/>
<rect x="309.25" y="281.94" width="24.10" height="7.28" fill="#e9f2fa"/>
<rect x="333.35" y="281.94" width="24.10" height="7.28" fill="#f7fbff"/>
<rect x="357.46" y="281.94" width="24.10" height="7.28" fill="#e9f2fa"/>
<rect x="381.56" y="281.94" width="24.10" height="7.28" fill="#f7fbff"/>
<rect x="405.67" y="281.94" width="24.10" height="7.28" fill="#f7fbff"/>
<rect x="429.77" y="281.94" width="24.10" height="7.28" fill="#a4cce3"/>
<rect x="453.88" y="281.94" width="24.10" height="7.28" fill="#89bedc"/>
<rect x="477.98" y="281.94" width="24.10" height="7.28" fill="#539ecd"/>
<rect x="502.08" y="281.94" width="24.10" height="7.28" fill="#f7fbff"/>
<rect x="526.19" y="281.94" width="24.10" height="7.28" fill="#f7fbff"/>
<rect x="550.29" y="281.94" width="24.10" height="7.28" fill="#f7fbff"/>
<rect x="574.40" y="281.94" width="24.10" height="7.28" fill="#f7fbff"/>
<rect x="20.00" y="289.22" width="24.10" height="7.28" fill="#cde0f1"/>
<rect x="44.10" y="289.22" width="24.10" height="7.28" fill="#f7fbff"/>
<rect x="68.21" y="289.22" width="24.10" height="7.28" fill="#e9f2fa"/>
<rect x="92.31" y="289.22" width="24.10" height="7.28" fill="#f7fbff"/>
<rect x="116.42" y="289.22" width="24.10" height="7.28" fill="#f7fbff"/>
<rect x="140.52" y="289.22" width="24.10" height="7.28" fill="#e9f2fa"/>
<rect x="164.62" y="289.22" width="24.10" height="7.28" fill="#f7fbff"/>
<rect x="188.73" y="289.22" width="24.10" height="7.28" fill="#dbe9f6"/>
<rect x="212.83" y="289.22" width="24.10" height="7.28" fill="#6aaed6"/>
<rect x="236.94" y="289.22" width="24.10" height="7.28" fill="#3d8dc4"/>
<rect x="261.04" y="289.22" width="24.10" height="7.28" fill="#f7fbff"/>
<rect x="285.15" y="289.22" width="24.10" height="7.28" fill="#dbe9f6"/>
<rect x="309.25" y="289.22" width="24.10" height="7.28" fill="#f7fbff"/>
<rect x="333.35" y="289.22" width="24.10" height="7.28" fill="#dbe9f6"/>
<rect x="357.46" y="289.22" width="24.10" height="7.28" fill="#f7fbff"/>
<rect x="381.56" y="289.22" width="24.10" height="7.28" fill="#f7fbff"/>
<rect x="405.67" y="289.22" width="24.10" height="7.28" fill="#e9f2fa"/>
<rect x="429.77" y="289.22" width="24.10" height="7.28" fill="#cde0f1"/>
<rect x="453.88" y="289.22" width="24.10" height="7.28" fill="#084387"/>
<rect x="477.98" y="289.22" width="24.10" height="7.28" fill="#dbe9f6"/>
<rect x="502.08" y="289.22" width="24.10" height="7.28" fill="#f7fbff"/>
<rect x="526.19" y="289.22" width="24.10" height="7.28" fill="#f7fbff"/>
<rect x="550.29" y="289.22" width="24.10" height="7.28" fill="#f7fbff"/>
<rect x="574.40" y="289.22" width="24.10" height="7.28" fill="#e9f2fa"/>
<rect x="20.00" y="296.50" width="24.10" height="7.28" fill="#e9f2fa"/>
<rect x="44.10" y="296.50" width="24.10" height="7.28" fill="#dbe9f6"/>
<rect x="68.21" y="296.50" width="24.10" height="7.28" fill="#e9f2fa"/>
<rect x="92.31" y="296.50" width="24.10" height="7.28" fill="#f7fbff"/>
<rect x="116.42" y="296.50" width="24.10" height="7.28" fill="#e9f2fa"/>
<rect x="140.52" y="296.50" width="24.10" height="7.28" fill="#e9f2fa"/>
<rect x="164.62" y="296.50" width="24.10" height="7.28" fill="#e9f2fa"/>
<rect x="188.73" y="296.50" width="24.10" height="7.28" fill="#a4cce3"/>
<rect x="212.83" y="296.50" width="24.10" height="7.28" fill="#a4cce3"/>
<rect x="236.94" y="296.50" width="24.10" height="7.28" fill="#bad6eb"/>
<rect x="261.04" y="296.50" width="24.10" height="7.28" fill="#dbe9f6"/>
<rect x="285.15" y="296.50" width="24.10" height="7.28" fill="#f7fbff"/>
<rect x="309.25" y="296.50" width="24.10" height="7.28" fill="#f7fbff"/>
<rect x="333.35" y="296.50" width="24.10" height="7.28" fill="#e9f2fa"/>
<rect x="357.46" y="296.50" width="24.10" height="7.28" fill="#e9f2fa"/>
<rect x="381.56" y="296.50" width="24.10" height="7.28" fill="#dbe9f6"/>
<rect x="405.67" y="296.50" width="24.10" height="7.28" fill="#f7fbff"/>
<rect x="429.77" y="296.50" width="24.10" height="7.28" fill="#bad6eb"/>
<rect x="453.88" y="296.50" width="24.10" height="7.28" fill="#539ecd"/>
<rect x="477.98" y="296.50" width="24.10" height="7.28" fill="#3d8dc4"/>
<rect x="502.08" y="296.50" width="24.10" height="7.28" fill="#e9f2fa"/>
<rect x="526.19" y="296.50" width="24.10" height="7.28" fill="#dbe9f6"/>
<rect x="550.29" y="296.50" width="24.10" height="7.28" fill="#f7fbff"/>
<rect x="574.40" y="296.50" width="24.10" height="7.28" fill="#e9f2fa"/>
<rect x="20.00" y="303.78" width="24.10" height="7.28" fill="#dbe9f6"/>
<rect x="44.10" y="303.78" width="24.10" height="7.28" fill="#dbe9f6"/>
<rect x="68.21" y="303.78" width="24.10" height="7.28" fill="#f7fbff"/>
<rect x="92.31" y="303.78" width="24.10" height="7.28" fill="#e9f2fa"/>
<rect x="116.42" y="303.78" width="24.10" height="7.28" fill="#e9f2fa"/>
<rect x="140.52" y="303.78" width="24.10" height="7.28" fill="#dbe9f6"/>
<rect x="164.62" y="303.78" width="24.10" height="7.28" fill="#e9f2fa"/>
<rect x="188.73" y="303.78" width="24.10" height="7.28" fill="#e9f2fa"/>
<rect x="212.83" y="303.78" width="24.10" height="7.28" fill="#539ecd"/>
<rect x="236.94" y="303.78" width="24.10" height="7.28" fill="#6aaed6"/>
<rect x="261.04" y="303.78" width="24.10" height="7.28" fill="#f7fbff"/>
<rect x="285.15" y="303.78" width="24.10" height="7.28" fill="#f7fbff"/>
<rect x="309.25" y="303.78" width="24.10" height="7.28" fill="#cde0f1"/>
<rect x="333.35" y="303.78" width="24.10" height="7.28" fill="#f7fbff"/>
<rect x="357.46" y="303.78" width="24.10" height="7.28" fill="#e9f2fa"/>
<rect x="381.56" y="303.78" width="24.10" height="7.28" fill="#e9f2fa"/>
<rect x="405.67" y="303.78" width="24.10" height="7.28" fill="#f7fbff"/>
<rect x="429.77" y="303.78" width="24.10" height="7.28" fill="#a4cce3"/>
<rect x="453.88" y="303.78" width="24.10" height="7.28" fill="#2b7bba"/>
<rect x="477.98" y="303.78" width="24.10" height="7.28" fill="#6aaed6"/>
<rect x="502.08" y="303.78" width="24.10" height="7.28" fill="#f7fbff"/>
<rect x="526.19" y="303.78" width="24.10" height="7.28" fill="#dbe9f6"/>
<rect x="550.29" y="303.78" width="24.10" height="7.28" fill="#f7fbff"/>
<rect x="574.40" y="303.78" width="24.10" height="7.28" fill="#e9f2fa"/>
<rect x="20.00" y="311.06" width="24.10" height="7.28" fill="#dbe9f6"/>
<rect x="44.10" y="311.06" width="24.10" height="7.28" fill="#f7fbff"/>
<rect x="68.21" y="311.06" width="24.10" height="7.28" fill="#bad6eb"/>
<rect x="92.31" y="311.06" width="24.10" height="7.28" fill="#e9f2fa"/>
<rect x="116.42" y="311.06" width="24.10" height="7.28" fill="#e9f2fa"/>
<rect x="140.52" y="311.06" width="24.10" height="7.28" fill="#e9f2fa"/>
<rect x="164.62" y="311.06" width="24.10" height="7.28" fill="#dbe9f6"/>
<rect x="188.73" y="311.06" width="24.10" height="7.28" fill="#bad6eb"/>
<rect x="212.83" y="311.06" width="24.10" height="7.28" fill="#89bedc"/>
<rect x="236.94" y="311.06" width="24.10" height="7.28" fill="#a4cce3"/>
<rect x="261.04" y="311.06" width="24.10" height="7.28" fill="#e9f2fa"/>
<rect x="285.15" y="311.06" width="24.10" height="7.28" fill="#dbe9f6"/>
<rect x="309.25" y="311.06" width="24.10" height="7.28" fill="#e9f2fa"/>
<rect x="333.35" y="311.06" width="24.10" height="7.28" fill="#e9f2fa"/>
<rect x="357.46" y="311.06" width="24.10" height="7.28" fill="#e9f2fa"/>
<rect x="381.56" y="311.06" width="24.10" height="7.28" fill="#f7fbff"/>
<rect x="405.67" y="311.06" width="24.10" height="7.28" fill="#dbe9f6"/>
<rect x="429.77" y="311.06" width="24.10" height="7.28" fill="#89bedc"/>
<rect x="453.88" y="311.06" width="24.10" height="7.28" fill="#89bedc"/>
<rect x="477.98" y="311.06" width="24.10" height="7.28" fill="#6aaed6"/>
<rect x="502.08" y="311.06" width="24.10" height="7.28" fill="#e9f2fa"/>
<rect x="526.19" y="311.06" width="24.10" height="7.28" fill="#dbe9f6"/>
<rect x="550.29" y="311.06" width="24.10" height="7.28" fill="#e9f2fa"/>
<rect x="574.40" y="311.06" width="24.10" height="7.28" fill="#f7fbff"/>
<rect x="20.00" y="318.34" width="24.10" height="7.28" fill="#e9f2fa"/>
<rect x="44.10" y="318.34" width="24.10" height="7.28" fill="#bad6eb"/>
<rect x="68.21" y="318.34" width="24.10" height="7.28" fill="#cde0f1"/>
<rect x="92.31" y="318.34" width="24.10" height="7.28" fill="#f7fbff"/>
<rect x="116.42" y="318.34" width="24.10" height="7.28" fill="#e9f2fa"/>
<rect x="140.52" y="318.34" width="24.10" height="7.28" fill="#e9f2fa"/>
<rect x="164.62" y="318.34" width="24.10" height="7.28" fill="#e9f2fa"/>
<rect x="188.73" y="318.34" width="24.10" height="7.28" fill="#89bedc"/>
<rect x="212.83" y="318.34" width="24.10" height="7.28" fill="#3d8dc4"/>
<rect x="236.94" y="318.34" width="24.10" height="7.28" fill="#cde0f1"/>
<rect x="261.04" y="318.34" width="24.10" height="7.28" fill="#f7fbff"/>
<rect x="285.15" y="318.34" width="24.10" height="7.28" fill="#e9f2fa"/>
<rect x="309.25" y="318.34" width="24.10" height="7.28" fill="#e9f2fa"/>
<rect x="333.35" y="318.34" width="24.10" height="7.28" fill="#e9f2fa"/>
<rect x="357.46" y="318.34" width="24.10" height="7.28" fill="#f7fbff"/>
<rect x="381.56" y="318.34" width="24.10" height="7.28" fill="#e9f2fa"/>
<rect x="405.67" y="318.34" width="24.10" height="7.28" fill="#f7fbff"/>
<rect x="429.77" y="318.34" width="24.10" height="7.28" fill="#6aaed6"/>
<rect x="453.88" y="318.34" width="24.10" height="7.28" fill="#3d8dc4"/>
<rect x="477.98" y="318.34" width="24.10" height="7.28" fill="#2b7bba"/>
<rect x="502.08" y="318.34" width="24.10" height="7.28" fill="#f7fbff"/>
<rect x="526.19" y="318.34" width="24.10" height="7.28" fill="#cde0f1"/>
<rect x="550.29" y="318.34" width="24.10" height="7.28" fill="#e9f2fa"/>
<rect x="574.40" y="318.34" width="24.10" height="7.28" fill="#cde0f1"/>
<rect x="20.00" y="325.62" width="24.10" height="7.28" fill="#dbe9f6"/>
<rect x="44.10" y="325.62" width="24.10" height="7.28" fill="#f7fbff"/>
<rect x="68.21" y="325.62" width="24.10" height="7.28" fill="#dbe9f6"/>
<rect x="92.31" y="325.62" width="24.10" height="7.28" fill="#f7fbff"/>
<rect x="116.42" y="325.62" width="24.10" height="7.28" fill="#e9f2fa"/>
<rect x="140.52" y="325.62" width="24.10" height="7.28" fill="#e9f2fa"/>
<rect x="164.62" y="325.62" width="24.10" height="7.28" fill="#e9f2fa"/>
<rect x="188.73" y="325.62" width="24.10" height="7.28" fill="#89bedc"/>
<rect x="212.83" y="325.62" width="24.10" height="7.28" fill="#a4cce3"/>
<rect x="236.94" y="325.62" width="24.10" height="7.28" fill="#cde0f1"/>
<rect x="261.04" y="325.62" width="24.10" height="7.28" fill="#f7fbff"/>
<rect x="285.15" y="325.62" width="24.10" height="7.28" fill="#e9f2fa"/>
<rect x="309.25" y="325.62" width="24.10" height="7.28" fill="#dbe9f6"/>
<rect x="333.35" y="325.62" width="24.10" height="7.28" fill="#e9f2fa"/>
<rect x="357.46" y="325.62" width="24.10" height="7.28" fill="#cde0f1"/>
<rect x="381.56" y="325.62" width="24.10" height="7.28" fill="#e9f2fa"/>
<rect x="405.67" y="325.62" width="24.10" height="7.28" fill="#e9f2fa"/>
<rect x="429.77" y="325.62" width="24.10" height="7.28" fill="#89bedc"/>
<rect x="453.88" y="325.62" width="24.10" height="7.28" fill="#539ecd"/>
<rect x="477.98" y="325.62" width="24.10" height="7.28" fill="#bad6eb"/>
<rect x="502.08" y="325.62" width="24.10" height="7.28" fill="#f7fbff"/>
<rect x="526.19" y="325.62" width="24.10" height="7.28" fill="#e9f2fa"/>
<rect x="550.29" y="325.62" width="24.10" height="7.28" fill="#f7fbff"/>
<rect x="574.40" y="325.62" width="24.10" height="7.28" fill="#f7fbff"/>
<rect x="20.00" y="332.90" width="24.10" height="7.28" fill="#e9f2fa"/>
<rect x="44.10" y="332.90" width="24.10" height="7.28" fill="#dbe9f6"/>
<rect x="68.21" y="332.90" width="24.10" height="7.28" fill="#f7fbff"/>
<rect x="92.31" y="332.90" width="24.10" height="7.28" fill="#dbe9f6"/>
<rect x="116.42" y="332.90" width="24.10" height="7.28" fill="#dbe9f6"/>
<rect x="140.52" y="332.90" width="24.10" height="7.28" fill="#e9f2fa"/>
<rect x="164.62" y="332.90" width="24.10" height="7.28" fill="#f7fbff"/>
<rect x="188.73" y="332.90" width="24.10" height="7.28" fill="#6aaed6"/>
<rect x="212.83" y="332.90" width="24.10" height="7.28" fill="#6aaed6"/>
<rect x="236.94" y="332.90" width="24.10" height="7.28" fill="#e9f2fa"/>
<rect x="261.04" y="332.90" width="24.10" height="7.28" fill="#f7fbff"/>
<rect x="285.15" y="332.90" width="24.10" height="7.28" fill="#f7fbff"/>
<rect x="309.25" y="332.90" width="24.10" height="7.28" fill="#e9f2fa"/>
<rect x="333.35" y="332.90" width="24.10" height="7.28" fill="#f7fbff"/>
<rect x="357.46" y="332.90" width="24.10" height="7.28" fill="#cde0f1"/>
<rect x="381.56" y="332.90" width="24.10" height="7.28" fill="#e9f2fa"/>
<rect x="405.67" y="332.90" width="24.10" height="7.28" fill="#f7fbff"/>
<rect x="429.77" y="332.90" width="24.10" height="7.28" fill="#a4cce3"/>
<rect x="453.88" y="332.90" width="24.10" height="7.28" fill="#2b7bba"/>
<rect x="477.98" y="332.90" width="24.10" height="7.28" fill="#6aaed6"/>
<rect x="502.08" y="332.90" width="24.10" height="7.28" fill="#f7fbff"/>
<rect x="526.19" y="332.90" width="24.10" height="7.28" fill="#dbe9f6"/>
<rect x="550.29" y="332.90" width="24.10" height="7.28" fill="#f7fbff"/>
<rect x="574.40" y="332.90" width="24.10" height="7.28" fill="#e9f2fa"/>
<rect x="20.00" y="340.18" width="24.10" height="7.28" fill="#e9f2fa"/>
<rect x="44.10" y="340.18" width="24.10" height="7.28" fill="#f7fbff"/>
<rect x="68.21" y="340.18" width="24.10" height="7.28" fill="#f7fbff"/>
<rect x="92.31" y="340.18" width="24.10" height="7.28" fill="#dbe9f6"/>
<rect x="116.42" y="340.18" width="24.10" height="7.28" fill="#f7fbff"/>
<rect x="140.52" y="340.18" width="24.10" height="7.28" fill="#e9f2fa"/>
<rect x="164.62" y="340.18" width="24.10" height="7.28" fill="#f7fbff"/>
<rect x="188.73" y="340.18" width="24.10" height="7.28" fill="#a4cce3"/>
<rect x="212.83" y="340.18" width="24.10" height="7.28" fill="#cde0f1"/>
<rect x="236.94" y="340.18" width="24.10" height="7.28" fill="#2b7bba"/>
<rect x="261.04" y="340.18" width="24.10" height="7.28" fill="#f7fbff"/>
<rect x="285.15" y="340.18" width="24.10" height="7.28" fill="#dbe9f6"/>
<rect x="309.25" y="340.18" width="24.10" height="7.28" fill="#dbe9f6"/>
<rect x="333.35" y="340.18" width="24.10" height="7.28" fill="#dbe9f6"/>
<rect x="357.46" y="340.18" width="24.10" height="7.28" fill="#f7fbff"/>
<rect x="381.56" y="340.18" width="24.10" height="7.28" fill="#f7fbff"/>
<rect x="405.67" y="340.18" width="24.10" height="7.28" fill="#e9f2fa"/>
<rect x="429.77" y="340.18" width="24.10" height="7.28" fill="#0b559f"/>
<rect x="453.88" y="340.18" width="24.10" height="7.28" fill="#6aaed6"/>
<rect x="477.98" y="340.18" width="24.10" height="7.28" fill="#a4cce3"/>
<rect x="502.08" y="340.18" width="24.10" height="7.28" fill="#f7fbff"/>
<rect x="526.19" y="340.18" width="24.10" height="7.28" fill="#e9f2fa"/>
<rect x="550.29" y="340.18" width="24.10" height="7.28" fill="#e9f2fa"/>
<rect x="574.40" y="340.18" width="24.10" height="7.28" fill="#cde0f1"/>
<rect x="20.00" y="347.46" width="24.10" height="7.28" fill="#e9f2fa"/>
<rect x="44.10" y="347.46" width="24.10" height="7.28" fill="#f7fbff"/>
<rect x="68.21" y="347.46" width="24.10" height="7.28" fill="#dbe9f6"/>
<rect x="92.31" y="347.46" width="24.10" height="7.28" fill="#f7fbff"/>
<rect x="116.42" y="347.46" width="24.10" height="7.28" fill="#cde0f1"/>
<rect x="140.52" y="347.46" width="24.10" height="7.28" fill="#cde0f1"/>
<rect x="164.62" y="347.46" width="24.10" height="7.28" fill="#e9f2fa"/>
<rect x="188.73" y="347.46" width="24.10" height="7.28" fill="#89bedc"/>
<rect x="212.83" y="347.46" width="24.10" height="7.28" fill="#89bedc"/>
<rect x="236.94" y="347.46" width="24.10" height="7.28" fill="#2b7bba"/>
<rect x="261.04" y="347.46" width="24.10" height="7.28" fill="#cde0f1"/>
<rect x="285.15" y="347.46" width="24.10" height="7.28" fill="#f7fbff"/>
<rect x="309.25" y="347.46" width="24.10" height="7.28" fill="#e9f2fa"/>
<rect x="333.35" y="347.46" width="24.10" height="7.28" fill="#dbe9f6"/>
<rect x="357.46" y="347.46" width="24.10" height="7.28" fill="#f7fbff"/>
<rect x="381.56" y="347.46" width="24.10" height="7.28" fill="#f7fbff"/>
<rect x="405.67" y="347.46" width="24.10" height="7.28" fill="#e9f2fa"/>
<rect x="429.77" y="347.46" width="24.10" height="7.28" fill="#539ecd"/>
<rect x="453.88" y="347.46" width="24.10" height="7.28" fill="#bad6eb"/>
<rect x="477.98" y="347.46" width="24.10" height="7.28" fill="#6aaed6"/>
<rect x="502.08" y="347.46" width="24.10" height="7.28" fill="#cde0f1"/>
<rect x="526.19" y="347.46" width="24.10" height="7.28" fill="#f7fbff"/>
<rect x="550.29" y="347.46" width="24.10" height="7.28" fill="#e9f2fa"/>
<rect x="574.40" y="347.46" width="24.10" height="7.28" fill="#e9f2fa"/>
<rect x="20.00" y="354.74" width="24.10" height="7.28" fill="#e9f2fa"/>
<rect x="44.10" y="354.74" width="24.10" height="7.28" fill="#f7fbff"/>
<rect x="68.21" y="354.74" width="24.10" height="7.28" fill="#f7fbff"/>
<rect x="92.31" y="354.74" width="24.10" height="7.28" fill="#e9f2fa"/>
<rect x="116.42" y="354.74" width="24.10" height="7.28" fill="#f7fbff"/>
<rect x="140.52" y="354.74" width="24.10" height="7.28" fill="#e9f2fa"/>
<rect x="164.62" y="354.74" width="24.10" height="7.28" fill="#dbe9f6"/>
<rect x="188.73" y="354.74" width="24.10" height="7.28" fill="#6aaed6"/>
<rect x="212.83" y="354.74" width="24.10" height="7.28" fill="#bad6eb"/>
<rect x="236.94" y="354.74" width="24.10" height="7.28" fill="#a4cce3"/>
<rect x="261.04" y="354.74" width="24.10" height="7.28" fill="#f7fbff"/>
<rect x="285.15" y="354.74" width="24.10" height="7.28" fill="#e9f2fa"/>
<rect x="309.25" y="354.74" width="24.10" height="7.28" fill="#e9f2fa"/>
<rect x="333.35" y="354.74" width="24.10" height="7.28" fill="#e9f2fa"/>
<rect x="357.46" y="354.74" width="24.10" height="7.28" fill="#f7fbff"/>
<rect x="381.56" y="354.74" width="24.10" height="7.28" fill="#e9f2fa"/>
<rect x="405.67" y="354.74" width="24.10" height="7.28" fill="#f7fbff"/>
<rect x="429.77" y="354.74" width="24.10" height="7.28" fill="#3d8dc4"/>
<rect x="453.88" y="354.74" width="24.10" height="7.28" fill="#3d8dc4"/>
<rect x="477.98" y="354.74" width="24.10" height="7.28" fill="#cde0f1"/>
<rect x="502.08" y="354.74" width="24.10" height="7.28" fill="#e9f2fa"/>
<rect x="526.19" y="354.74" width="24.10" height="7.28" fill="#dbe9f6"/>
<rect x="550.29" y="354.74" width="24.10" height="7.28" fill="#e9f2fa"/>
<rect x="574.40" y="354.74" width="24.10" height="7.28" fill="#cde0f1"/>
<rect x="20.00" y="362.02" width="24.10" height="7.28" fill="#e9f2fa"/>
<rect x="44.10" y="362.02" width="24.10" height="7.28" fill="#e9f2fa"/>
<rect x="68.21" y="362.02" width="24.10" height="7.28" fill="#f7fbff"/>
<rect x="92.31" y="362.02" width="24.10" height="7.28" fill="#f7fbff"/>
<rect x="116.42" y="362.02" width="24.10" height="7.28" fill="#e9f2fa"/>
<rect x="140.52" y="362.02" width="24.10" height="7.28" fill="#f7fbff"/>
<rect x="164.62" y="362.02" width="24.10" height="7.28" fill="#f7fbff"/>
<rect x="188.73" y="362.02" width="24.10" height="7.28" fill="#6aaed6"/>
<rect x="212.83" y="362.02" width="24.10" height="7.28" fill="#bad6eb"/>
<rect x="236.94" y="362.02" width="24.10" height="7.28" fill="#1967ad"/>
<rect x="261.04" y="362.02" width="24.10" height="7.28" fill="#f7fbff"/>
<rect x="285.15" y="362.02" width="24.10" height="7.28" fill="#dbe9f6"/>
<rect x="309.25" y="362.02" width="24.10" height="7.28" fill="#e9f2fa"/>
<rect x="333.35" y="362.02" width="24.10" height="7.28" fill="#f7fbff"/>
<rect x="357.46" y="362.02" width="24.10" height="7.28" fill="#f7fbff"/>
<rect x="381.56" y="362.02" width="24.10" height="7.28" fill="#f7fbff"/>
<rect x="405.67" y="362.02" width="24.10" height="7.28" fill="#f7fbff"/>
<rect x="429.77" y="362.02" width="24.10" height="7.28" fill="#89bedc"/>
<rect x="453.88" y="362.02" width="24.10" height="7.28" fill="#89bedc"/>
<rect x="477.98" y="362.02" width="24.10" height="7.28" fill="#6aaed6"/>
<rect x="502.08" y="362.02" width="24.10" height="7.28" fill="#f7fbff"/>
<rect x="526.19" y="362.02" width="24.10" height="7.28" fill="#f7fbff"/>
<rect x="550.29" y="362.02" width="24.10" height="7.28" fill="#dbe9f6"/>
<rect x="574.40" y="362.02" width="24.10" height="7.28" fill="#cde0f1"/>
<rect x="20.00" y="369.30" width="24.10" height="7.28" fill="#e9f2fa"/>
<rect x="44.10" y="369.30" width="24.10" height="7.28" fill="#f7fbff"/>
<rect x="68.21" y="369.30" width="24.10" height="7.28" fill="#f7fbff"/>
<rect x="92.31" y="369.30" width="24.10" height="7.28" fill="#e9f2fa"/>
<rect x="116.42" y="369.30" width="24.10" height="7.28" fill="#f7fbff"/>
<rect x="140.52" y="369.30" width="24.10" height="7.28" fill="#f7fbff"/>
<rect x="164.62" y="369.30" width="24.10" height="7.28" fill="#e9f2fa"/>
<rect x="188.73" y="369.30" width="24.10" height="7.28" fill="#a4cce3"/>
<rect x="212.83" y="369.30" width="24.10" height="7.28" fill="#6aaed6"/>
<rect x="236.94" y="369.30" width="24.10" height="7.28" fill="#89bedc"/>
<rect x="261.04" y="369.30" width="24.10" height="7.28" fill="#f7fbff"/>
<rect x="285.15" y="369.30" width="24.10" height="7.28" fill="#dbe9f6"/>
<rect x="309.25" y="369.30" width="24.10" height="7.28" fill="#f7fbff"/>
<rect x="333.35" y="369.30" width="24.10" height="7.28" fill="#e9f2fa"/>
<rect x="357.46" y="369.30" width="24.10" height="7.28" fill="#dbe9f6"/>
<rect x="381.56" y="369.30" width="24.10" height="7.28" fill="#f7fbff"/>
<rect x="405.67" y="369.30" width="24.10" height="7.28" fill="#dbe9f6"/>
<rect x="429.77" y="369.30" width="24.10" height="7.28" fill="#bad6eb"/>
<rect x="453.88" y="369.30" width="24.10" height="7.28" fill="#539ecd"/>
<rect x="477.98" y="369.30" width="24.10" height="7.28" fill="#539ecd"/>
<rect x="502.08" y="369.30" width="24.10" height="7.28" fill="#dbe9f6"/>
<rect x="526.19" y="369.30" width="24.10" height="7.28" fill="#f7fbff"/>
<rect x="550.29" y="369.30" width="24.10" height="7.28" fill="#f7fbff"/>
<rect x="574.40" y="369.30" width="24.10" height="7.28" fill="#e9f2fa"/>
<rect x="20.00" y="376.58" width="24.10" height="7.28" fill="#dbe9f6"/>
<rect x="44.10" y="376.58" width="24.10" height="7.28" fill="#f7fbff"/>
<rect x="68.21" y="376.58" width="24.10" height="7.28" fill="#dbe9f6"/>
<rect x="92.31" y="376.58" width="24.10" height="7.28" fill="#dbe9f6"/>
<rect x="116.42" y="376.58" width="24.10" height="7.28" fill="#f7fbff"/>
<rect x="140.52" y="376.58" width="24.10" height="7.28" fill="#dbe9f6"/>
<rect x="164.62" y="376.58" width="24.10" height="7.28" fill="#f7fbff"/>
<rect x="188.73" y="376.58" width="24.10" height="7.28" fill="#1967ad"/>
<rect x="212.83" y="376.58" width="24.10" height="7.28" fill="#539ecd"/>
<rect x="236.94" y="376.58" width="24.10" height="7.28" fill="#bad6eb"/>
<rect x="261.04" y="376.58" width="24.10" height="7.28" fill="#f7fbff"/>
<rect x="285.15" y="376.58" width="24.10" height="7.28" fill="#e9f2fa"/>
<rect x="309.25" y="376.58" width="24.10" height="7.28" fill="#e9f2fa"/>
<rect x="333.35" y="376.58" width="24.10" height="7.28" fill="#e9f2fa"/>
<rect x="357.46" y="376.58" width="24.10" height="7.28" fill="#e9f2fa"/>
<rect x="381.56" y="376.58" width="24.10" height="7.28" fill="#e9f2fa"/>
<rect x="405.67" y="376.58" width="24.10" height="7.28" fill="#e9f2fa"/>
<rect x="429.77" y="376.58" width="24.10" height="7.28" fill="#2b7bba"/>
<rect x="453.88" y="376.58" width="24.10" height="7.28" fill="#539ecd"/>
<rect x="477.98" y="376.58" width="24.10" height="7.28" fill="#1967ad"/>
<rect x="502.08" y="376.58" width="24.10" height="7.28" fill="#f7fbff"/>
<rect x="526.19" y="376.58" width="24.10" height="7.28" fill="#e9f2fa"/>
<rect x="550.29" y="376.58" width="24.10" height="7.28" fill="#f7fbff"/>
<rect x="574.40" y="376.58" width="24.10" height="7.28" fill="#f7fbff"/>
<rect x="20.00" y="383.86" width="24.10" height="7.28" fill="#dbe9f6"/>
<rect x="44.10" y="383.86" width="24.10" height="7.28" fill="#cde0f1"/>
<rect x="68.21" y="383.86" width="24.10" height="7.28" fill="#e9f2fa"/>
<rect x="92.31" y="383.86" width="24.10" height="7.28" fill="#e9f2fa"/>
<rect x="116.42" y="383.86" width="24.10" height="7.28" fill="#f7fbff"/>
<rect x="140.52" y="383.86" width="24.10" height="7.28" fill="#e9f2fa"/>
<rect x="164.62" y="383.86" width="24.10" height="7.28" fill="#f7fbff"/>
<rect x="188.73" y="383.86" width="24.10" height="7.28" fill="#a4cce3"/>
<rect x="212.83" y="383.86" width="24.10" height="7.28" fill="#3d8dc4"/>
<rect x="236.94" y="383.86" width="24.10" height="7.28" fill="#89bedc"/>
<rect x="261.04" y="383.86" width="24.10" height="7.28" fill="#f7fbff"/>
<rect x="285.15" y="383.86" width="24.10" height="7.28" fill="#e9f2fa"/>
<rect x="309.25" y="383.86" width="24.10" height="7.28" fill="#f7fbff"/>
<rect x="333.35" y="383.86" width="24.10" height="7.28" fill="#f7fbff"/>
<rect x="357.46" y="383.86" width="24.10" height="7.28" fill="#dbe9f6"/>
<rect x="381.56" y="383.86" width="24.10" height="7.28" fill="#dbe9f6"/>
<rect x="405.67" y="383.86" width="24.10" height="7.28" fill="#f7fbff"/>
<rect x="429.77" y="383.86" width="24.10" height="7.28" fill="#a4cce3"/>
<rect x="453.88" y="383.86" width="24.10" height="7.28" fill="#bad6eb"/>
<rect x="477.98" y="383.86" width="24.10" height="7.28" fill="#539ecd"/>
<rect x="502.08" y="383.86" width="24.10" height="7.28" fill="#e9f2fa"/>
<rect x="526.19" y="383.86" width="24.10" height="7.28" fill="#e9f2fa"/>
<rect x="550.29" y="383.86" width="24.10" height="7.28" fill="#f7fbff"/>
<rect x="574.40" y="383.86" width="24.10" height="7.28" fill="#cde0f1"/>
<rect x="20.00" y="391.14" width="24.10" height="7.28" fill="#f7fbff"/>
<rect x="44.10" y="391.14" width="24.10" height="7.28" fill="#f7fbff"/>
<rect x="68.21" y="391.14" width="24.10" height="7.28" fill="#f7fbff"/>
<rect x="92.31" y="391.14" width="24.10" height="7.28" fill="#e9f2fa"/>
<rect x="116.42" y="391.14" width="24.10" height="7.28" fill="#cde0f1"/>
<rect x="140.52" y="391.14" width="24.10" height="7.28" fill="#e9f2fa"/>
<rect x="164.62" y="391.14" width="24.10" height="7.28" fill="#f7fbff"/>
<rect x="188.73" y="391.14" width="24.10" height="7.28" fill="#bad6eb"/>
<rect x="212.83" y="391.14" width="24.10" height="7.28" fill="#a4cce3"/>
<rect x="236.94" y="391.14" width="24.10" height="7.28" fill="#6aaed6"/>
<rect x="261.04" y="391.14" width="24.10" height="7.28" fill="#e9f2fa"/>
<rect x="285.15" y="391.14" width="24.10" height="7.28" fill="#f7fbff"/>
<rect x="309.25" y="391.14" width="24.10" height="7.28" fill="#f7fbff"/>
<rect x="333.35" y="391.14" width="24.10" height="7.28" fill="#dbe9f6"/>
<rect x="357.46" y="391.14" width="24.10" height="7.28" fill="#f7fbff"/>
<rect x="381.56" y="391.14" width="24.10" height="7.28" fill="#e9f2fa"/>
<rect x="405.67" y="391.14" width="24.10" height="7.28" fill="#f7fbff"/>
<rect x="429.77" y="391.14" width="24.10" height="7.28" fill="#539ecd"/>
<rect x="453.88" y="391.14" width="24.10" height="7.28" fill="#a4cce3"/>
<rect x="477.98" y="391.14" width="24.10" height="7.28" fill="#539ecd"/>
<rect x="502.08" y="391.14" width="24.10" height="7.28" fill="#f7fbff"/>
<rect x="526.19" y="391.14" width="24.10" height="7.28" fill="#e9f2fa"/>
<rect x="550.29" y="391.14" width="24.10" height="7.28" fill="#dbe9f6"/>
<rect x="574.40" y="391.14" width="24.10" height="7.28" fill="#f7fbff"/>
<rect x="20.00" y="398.42" width="24.10" height="7.28" fill="#e9f2fa"/>
<rect x="44.10" y="398.42" width="24.10" height="7.28" fill="#dbe9f6"/>
<rect x="68.21" y="398.42" width="24.10" height="7.28" fill="#f7fbff"/>
<rect x="92.31" y="398.42" width="24.10" height="7.28" fill="#f7fbff"/>
<rect x="116.42" y="398.42" width="24.10" height="7.28" fill="#f7fbff"/>
<rect x="140.52" y="398.42" width="24.10" height="7.28" fill="#e9f2fa"/>
<rect x="164.62" y="398.42" width="24.10" height="7.28" fill="#e9f2fa"/>
<rect x="188.73" y="398.42" width="24.10" height="7.28" fill="#a4cce3"/>
<rect x="212.83" y="398.42" width="24.10" height="7.28" fill="#6aaed6"/>
<rect x="236.94" y="398.42" width="24.10" height="7.28" fill="#bad6eb"/>
<rect x="261.04" y="398.42" width="24.10" height="7.28" fill="#f7fbff"/>
<rect x="285.15" y="398.42" width="24.10" height="7.28" fill="#dbe9f6"/>
<rect x="309.25" y="398.42" width="24.10" height="7.28" fill="#f7fbff"/>
<rect x="333.35" y="398.42" width="24.10" height="7.28" fill="#f7fbff"/>
<rect x="357.46" y="398.42" width="24.10" height="7.28" fill="#f7fbff"/>
<rect x="381.56" y="398.42" width="24.10" height="7.28" fill="#f7fbff"/>
<rect x="405.67" y="398.42" width="24.10" height="7.28" fill="#e9f2fa"/>
<rect x="429.77" y="398.42" width="24.10" height="7.28" fill="#bad6eb"/>
<rect x="453.88" y="398.42" width="24.10" height="7.28" fill="#89bedc"/>
<rect x="477.98" y="398.42" width="24.10" height="7.28" fill="#539ecd"/>
<rect x="502.08" y="398.42" width="24.10" height="7.28" fill="#f7fbff"/>
<rect x="526.19" y="398.42" width="24.10" height="7.28" fill="#dbe9f6"/>
<rect x="550.29" y="398.42" width="24.10" height="7.28" fill="#e9f2fa"/>
<rect x="574.40" y="398.42" width="24.10" height="7.28" fill="#e9f2fa"/>
<rect x="20.00" y="405.70" width="24.10" height="7.28" fill="#e9f2fa"/>
<rect x="44.10" y="405.70" width="24.10" height="7.28" fill="#f7fbff"/>
<rect x="68.21" y="405.70" width="24.10" height="7.28" fill="#e9f2fa"/>
<rect x="92.31" y="405.70" width="24.10" height="7.28" fill="#e9f2fa"/>
<rect x="116.42" y="405.70" width="24.10" height="7.28" fill="#e9f2fa"/>
<rect x="140.52" y="405.70" width="24.10" height="7.28" fill="#f7fbff"/>
<rect x="164.62" y="405.70" width="24.10" height="7.28" fill="#dbe9f6"/>
<rect x="188.73" y="405.70" width="24.10" height="7.28" fill="#539ecd"/>
<rect x="212.83" y="405.70" width="24.10" height="7.28" fill="#3d8dc4"/>
<rect x="236.94" y="405.70" width="24.10" height="7.28" fill="#89bedc"/>
<rect x="261.04" y="405.70" width="24.10" height="7.28" fill="#dbe9f6"/>
<rect x="285.15" y="405.70" width="24.10" height="7.28" fill="#f7fbff"/>
<rect x="309.25" y="405.70" width="24.10" height="7.28" fill="#e9f2fa"/>
<rect x="333.35" y="405.70" width="24.10" height="7.28" fill="#f7fbff"/>
<rect x="357.46" y="405.70" width="24.10" height="7.28" fill="#dbe9f6"/>
<rect x="381.56" y="405.70" width="24.10" height="7.28" fill="#f7fbff"/>
<rect x="405.67" y="405.70" width="24.10" height="7.28" fill="#e9f2fa"/>
<rect x="429.77" y="405.70" width="24.10" height="7.28" fill="#a4cce3"/>
<rect x="453.88" y="405.70" width="24.10" height="7.28" fill="#89bedc"/>
<rect x="477.98" y="405.70" width="24.10" height="7.28" fill="#539ecd"/>
<rect x="502.08" y="405.70" width="24.10" height="7.28" fill="#f7fbff"/>
<rect x="526.19" y="405.70" width="24.10" height="7.28" fill="#dbe9f6"/>
<rect x="550.29" y="405.70" width="24.10" height="7.28" fill="#f7fbff"/>
<rect x="574.40" y="405.70" width="24.10" height="7.28" fill="#e9f2fa"/>
<rect x="20.00" y="412.98" width="24.10" height="7.28" fill="#cde0f1"/>
<rect x="44.10" y="412.98" width="24.10" height="7.28" fill="#e9f2fa"/>
<rect x="68.21" y="412.98" width="24.10" height="7.28" fill="#f7fbff"/>
<rect x="92.31" y="412.98" width="24.10" height="7.28" fill="#f7fbff"/>
<rect x="116.42" y="412.98" width="24.10" height="7.28" fill="#f7fbff"/>
<rect x="140.52" y="412.98" width="24.10" height="7.28" fill="#e9f2fa"/>
<rect x="164.62" y="412.98" width="24.10" height="7.28" fill="#e9f2fa"/>
<rect x="188.73" y="412.98" width="24.10" height="7.28" fill="#bad6eb"/>
<rect x="212.83" y="412.98" width="24.10" height="7.28" fill="#6aaed6"/>
<rect x="236.94" y="412.98" width="24.10" height="7.28" fill="#539ecd"/>
<rect x="261.04" y="412.98" width="24.10" height="7.28" fill="#f7fbff"/>
<rect x="285.15" y="412.98" width="24.10" height="7.28" fill="#e9f2fa"/>
<rect x="309.25" y="412.98" width="24.10" height="7.28" fill="#e9f2fa"/>
<rect x="333.35" y="412.98" width="24.10" height="7.28" fill="#dbe9f6"/>
<rect x="357.46" y="412.98" width="24.10" height="7.28" fill="#f7fbff"/>
<rect x="381.56" y="412.98" width="24.10" height="7.28" fill="#f7fbff"/>
<rect x="405.67" y="412.98" width="24.10" height="7.28" fill="#f7fbff"/>
<rect x="429.77" y="412.98" width="24.10" height="7.28" fill="#2b7bba"/>
<rect x="453.88" y="412.98" width="24.10" height="7.28" fill="#bad6eb"/>
<rect x="477.98" y="412.98" width="24.10" height="7.28" fill="#cde0f1"/>
<rect x="502.08" y="412.98" width="24.10" height="7.28" fill="#f7fbff"/>
<rect x="526.19" y="412.98" width="24.10" height="7.28" fill="#e9f2fa"/>
<rect x="550.29" y="412.98" width="24.10" height="7.28" fill="#dbe9f6"/>
<rect x="574.40" y="412.98" width="24.10" height="7.28" fill="#dbe9f6"/>
<rect x="20.00" y="420.26" width="24.10" height="7.28" fill="#e9f2fa"/>
<rect x="44.10" y="420.26" width="24.10" height="7.28" fill="#f7fbff"/>
<rect x="68.21" y="420.26" width="24.10" height="7.28" fill="#dbe9f6"/>
<rect x="92.31" y="420.26" width="24.10" height="7.28" fill="#f7fbff"/>
<rect x="116.42" y="420.26" width="24.10" height="7.28" fill="#f7fbff"/>
<rect x="140.52" y="420.26" width="24.10" height="7.28" fill="#cde0f1"/>
<rect x="164.62" y="420.26" width="24.10" height="7.28" fill="#cde0f1"/>
<rect x="188.73" y="420.26" width="24.10" height="7.28" fill="#2b7bba"/>
<rect x="212.83" y="420.26" width="24.10" height="7.28" fill="#89bedc"/>
<rect x="236.94" y="420.26" width="24.10" height="7.28" fill="#e9f2fa"/>
<rect x="261.04" y="420.26" width="24.10" height="7.28" fill="#dbe9f6"/>
<rect x="285.15" y="420.26" width="24.10" height="7.28" fill="#e9f2fa"/>
<rect x="309.25" y="420.26" width="24.10" height="7.28" fill="#dbe9f6"/>
<rect x="333.35" y="420.26" width="24.10" height="7.28" fill="#f7fbff"/>
<rect x="357.46" y="420.26" width="24.10" height="7.28" fill="#e9f2fa"/>
<rect x="381.56" y="420.26" width="24.10" height="7.28" fill="#e9f2fa"/>
<rect x="405.67" y="420.26" width="24.10" height="7.28" fill="#cde0f1"/>
<rect x="429.77" y="420.26" width="24.10" height="7.28" fill="#89bedc"/>
<rect x="453.88" y="420.26" width="24.10" height="7.28" fill="#bad6eb"/>
<rect x="477.98" y="420.26" width="24.10" height="7.28" fill="#3d8dc4"/>
<rect x="502.08" y="420.26" width="24.10" height="7.28" fill="#f7fbff"/>
<rect x="526.19" y="420.26" width="24.10" height="7.28" fill="#f7fbff"/>
<rect x="550.29" y="420.26" width="24.10" height="7.28" fill="#f7fbff"/>
<rect x="574.40" y="420.26" width="24.10" height="7.28" fill="#e9f2fa"/>
<rect x="20.00" y="427.54" width="24.10" height="7.28" fill="#e9f2fa"/>
<rect x="44.10" y="427.54" width="24.10" height="7.28" fill="#e9f2fa"/>
<rect x="68.21" y="427.54" width="24.10" height="7.28" fill="#e9f2fa"/>
<rect x="92.31" y="427.54" width="24.10" height="7.28" fill="#e9f2fa"/>
<rect x="116.42" y="427.54" width="24.10" height="7.28" fill="#e9f2fa"/>
<rect x="140.52" y="427.54" width="24.10" height="7.28" fill="#dbe9f6"/>
<rect x="164.62" y="427.54" width="24.10" height="7.28" fill="#e9f2fa"/>
<rect x="188.73" y="427.54" width="24.10" height="7.28" fill="#bad6eb"/>
<rect x="212.83" y="427.54" width="24.10" height="7.28" fill="#3d8dc4"/>
<rect x="236.94" y="427.54" width="24.10" height="7.28" fill="#a4cce3"/>
<rect x="261.04" y="427.54" width="24.10" height="7.28" fill="#e9f2fa"/>
<rect x="285.15" y="427.54" width="24.10" height="7.28" fill="#e9f2fa"/>
<rect x="309.25" y="427.54" width="24.10" height="7.28" fill="#f7fbff"/>
<rect x="333.35" y="427.54" width="24.10" height="7.28" fill="#f7fbff"/>
<rect x="357.46" y="427.54" width="24.10" height="7.28" fill="#f7fbff"/>
<rect x="381.56" y="427.54" width="24.10" height="7.28" fill="#f7fbff"/>
<rect x="405.67" y="427.54" width="24.10" height="7.28" fill="#cde0f1"/>
<rect x="429.77" y="427.54" width="24.10" height="7.28" fill="#bad6eb"/>
<rect x="453.88" y="427.54" width="24.10" height="7.28" fill="#6aaed6"/>
<rect x="477.98" y="427.54" width="24.10" height="7.28" fill="#539ecd"/>
<rect x="502.08" y="427.54" width="24.10" height="7.28" fill="#e9f2fa"/>
<rect x="526.19" y="427.54" width="24.10" height="7.28" fill="#f7fbff"/>
<rect x="550.29" y="427.54" width="24.10" height="7.28" fill="#f7fbff"/>
<rect x="574.40" y="427.54" width="24.10" height="7.28" fill="#e9f2fa"/>
<rect x="20.00" y="434.82" width="24.10" height="7.28" fill="#e9f2fa"/>
<rect x="44.10" y="434.82" width="24.10" height="7.28" fill="#e9f2fa"/>
<rect x="68.21" y="434.82" width="24.10" height="7.28" fill="#dbe9f6"/>
<rect x="92.31" y="434.82" width="24.10" height="7.28" fill="#e9f2fa"/>
<rect x="116.42" y="434.82" width="24.10" height="7.28" fill="#f7fbff"/>
<rect x="140.52" y="434.82" width="24.10" height="7.28" fill="#e9f2fa"/>
<rect x="164.62" y="434.82" width="24.10" height="7.28" fill="#e9f2fa"/>
<rect x="188.73" y="434.82" width="24.10" height="7.28" fill="#dbe9f6"/>
<rect x="212.83" y="434.82" width="24.10" height="7.28" fill="#a4cce3"/>
<rect x="236.94" y="434.82" width="24.10" height="7.28" fill="#89bedc"/>
<rect x="261.04" y="434.82" width="24.10" height="7.28" fill="#f7fbff"/>
<rect x="285.15" y="434.82" width="24.10" height="7.28" fill="#dbe9f6"/>
<rect x="309.25" y="434.82" width="24.10" height="7.28" fill="#f7fbff"/>
<rect x="333.35" y="434.82" width="24.10" height="7.28" fill="#f7fbff"/>
<rect x="357.46" y="434.82" width="24.10" height="7.28" fill="#e9f2fa"/>
<rect x="381.56" y="434.82" width="24.10" height="7.28" fill="#dbe9f6"/>
<rect x="405.67" y="434.82" width="24.10" height="7.28" fill="#e9f2fa"/>
<rect x="429.77" y="434.82" width="24.10" height="7.28" fill="#a4cce3"/>
<rect x="453.88" y="434.82" width="24.10" height="7.28" fill="#dbe9f6"/>
<rect x="477.98" y="434.82" width="24.10" height="7.28" fill="#6aaed6"/>
<rect x="502.08" y="434.82" width="24.10" height="7.28" fill="#f7fbff"/>
<rect x="526.19" y="434.82" width="24.10" height="7.28" fill="#e9f2fa"/>
<rect x="550.29" y="434.82" width="24.10" height="7.28" fill="#e9f2fa"/>
<rect x="574.40" y="434.82" width="24.10" height="7.28" fill="#e9f2fa"/>
</g>
<g font-size="13.2" text-anchor="middle" letter-spacing="-0.4">
<text x="32.05" y="464.1">0</text>
<text x="56.16" y="464.1">1</text>
<text x="80.26" y="464.1">2</text>
<text x="104.36" y="464.1">3</text>
<text x="128.47" y="464.1">4</text>
<text x="152.57" y="464.1">5</text>
<text x="176.68" y="464.1">6</text>
<text x="200.78" y="464.1">7</text>
<text x="224.89" y="464.1">8</text>
<text x="248.99" y="464.1">9</text>
<text x="273.09" y="464.1">10</text>
<text x="297.20" y="464.1">11</text>
<text x="321.30" y="464.1">12</text>
<text x="345.41" y="464.1">13</text>
<text x="369.51" y="464.1">14</text>
<text x="393.61" y="464.1">15</text>
<text x="417.72" y="464.1">16</text>
<text x="441.82" y="464.1">17</text>
<text x="465.93" y="464.1">18</text>
<text x="490.03" y="464.1">19</text>
<text x="514.14" y="464.1">20</text>
<text x="538.24" y="464.1">21</text>
<text x="562.34" y="464.1">22</text>
<text x="586.45" y="464.1">23</text>
</g>
<text transform="translate(309.8,481.8) scale(0.953,1)" font-size="15.1" text-anchor="middle">Hour of Day</text>
<text transform="translate(11.9,223.7) rotate(-90) scale(0.972,1)" font-size="14.8" text-anchor="middle">Charging Station Index</text>
<defs><linearGradient id="cb" x1="0" y1="1" x2="0" y2="0">
<stop offset="0.0000" stop-color="#f7fbff"/>
<stop offset="0.0312" stop-color="#f1f7fd"/>
<stop offset="0.0625" stop-color="#eaf3fb"/>
<stop offset="0.0938" stop-color="#e4eff9"/>
<stop offset="0.1250" stop-color="#deebf7"/>
<stop offset="0.1562" stop-color="#d8e7f5"/>
<stop offset="0.1875" stop-color="#d2e3f3"/>
<stop offset="0.2188" stop-color="#ccdff1"/>
<stop offset="0.2500" stop-color="#c6dbef"/>
<stop offset="0.2812" stop-color="#bcd7eb"/>
<stop offset="0.3125" stop-color="#b2d2e8"/>
<stop offset="0.3438" stop-color="#a8cee4"/>
<stop offset="0.3750" stop-color="#9dcae1"/>
<stop offset="0.4062" stop-color="#91c3de"/>
<stop offset="0.4375" stop-color="#84bcdb"/>
<stop offset="0.4688" stop-color="#77b5d9"/>
<stop offset="0.5000" stop-color="#6aaed6"/>
<stop offset="0.5312" stop-color="#60a7d2"/>
<stop offset="0.5625" stop-color="#56a0ce"/>
<stop offset="0.5938" stop-color="#4b98ca"/>
<stop offset="0.6250" stop-color="#4191c6"/>
<stop offset="0.6562" stop-color="#3989c1"/>
<stop offset="0.6875" stop-color="#3181bd"/>
<stop offset="0.7188" stop-color="#2979b9"/>
<stop offset="0.7500" stop-color="#2070b4"/>
<stop offset="0.7812" stop-color="#1a68ae"/>
<stop offset="0.8125" stop-color="#1460a8"/>
<stop offset="0.8438" stop-color="#0e58a2"/>
<stop offset="0.8750" stop-color="#08509b"/>
<stop offset="0.9062" stop-color="#08488e"/>
<stop offset="0.9375" stop-color="#084082"/>
<stop offset="0.9688" stop-color="#083776"/>
<stop offset="1.0000" stop-color="#08306b"/>
</linearGradient></defs>
<rect x="634.7" y="5.3" width="21.5" height="436.80" fill="url(#cb)"/>
<g font-size="13.2" letter-spacing="-0.4">
<line x1="656.5" y1="442.60" x2="663.8000000000001" y2="442.60" stroke="#262626" stroke-width="1.5"/>
<text x="668.3" y="447.60">0</text>
<line x1="656.5" y1="380.20" x2="663.8000000000001" y2="380.20" stroke="#262626" stroke-width="1.5"/>
<text x="668.3" y="385.20">2</text>
<line x1="656.5" y1="317.80" x2="663.8000000000001" y2="317.80" stroke="#262626" stroke-width="1.5"/>
<text x="668.3" y="322.80">4</text>
<line x1="656.5" y1="255.40" x2="663.8000000000001" y2="255.40" stroke="#262626" stroke-width="1.5"/>
<text x="668.3" y="260.40">6</text>
<line x1="656.5" y1="193.00" x2="663.8000000000001" y2="193.00" stroke="#262626" stroke-width="1.5"/>
<text x="668.3" y="198.00">8</text>
<line x1="656.5" y1="130.60" x2="663.8000000000001" y2="130.60" stroke="#262626" stroke-width="1.5"/>
<text x="668.3" y="135.60">10</text>
<line x1="656.5" y1="68.20" x2="663.8000000000001" y2="68.20" stroke="#262626" stroke-width="1.5"/>
<text x="668.3" y="73.20">12</text>
<line x1="656.5" y1="5.80" x2="663.8000000000001" y2="5.80" stroke="#262626" stroke-width="1.5"/>
<text x="668.3" y="10.80">14</text>
</g>
</svg></body></html>
